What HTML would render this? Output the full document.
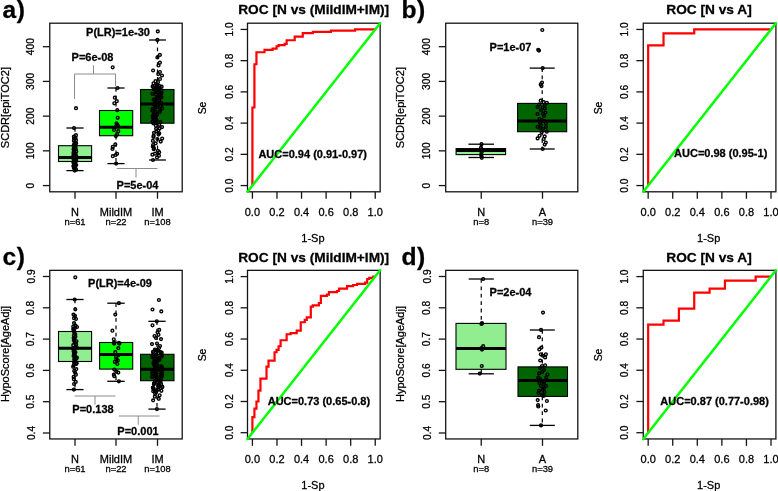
<!DOCTYPE html>
<html><head><meta charset="utf-8"><style>
html,body{margin:0;padding:0;background:#fff;overflow:hidden;}
svg{display:block;will-change:transform;}
</style></head><body>
<svg width="778" height="491" viewBox="0 0 778 491" font-family='"Liberation Sans", sans-serif'>
<rect width="778" height="491" fill="#fff"/>
<line x1="42.87" y1="185.57" x2="49.77" y2="185.57" stroke="#151515" stroke-width="1.3" />
<text x="31" y="185.57" font-size="10.2" font-weight="normal" text-anchor="middle" fill="#000" stroke="#000" stroke-width="0.28" transform="rotate(-90 31 185.57)" dominant-baseline="central">0</text>
<line x1="42.87" y1="150.85" x2="49.77" y2="150.85" stroke="#151515" stroke-width="1.3" />
<text x="31" y="150.85" font-size="10.2" font-weight="normal" text-anchor="middle" fill="#000" stroke="#000" stroke-width="0.28" transform="rotate(-90 31 150.85)" dominant-baseline="central">100</text>
<line x1="42.87" y1="116.13" x2="49.77" y2="116.13" stroke="#151515" stroke-width="1.3" />
<text x="31" y="116.13" font-size="10.2" font-weight="normal" text-anchor="middle" fill="#000" stroke="#000" stroke-width="0.28" transform="rotate(-90 31 116.13)" dominant-baseline="central">200</text>
<line x1="42.87" y1="81.41" x2="49.77" y2="81.41" stroke="#151515" stroke-width="1.3" />
<text x="31" y="81.41" font-size="10.2" font-weight="normal" text-anchor="middle" fill="#000" stroke="#000" stroke-width="0.28" transform="rotate(-90 31 81.41)" dominant-baseline="central">300</text>
<line x1="42.87" y1="46.69" x2="49.77" y2="46.69" stroke="#151515" stroke-width="1.3" />
<text x="31" y="46.69" font-size="10.2" font-weight="normal" text-anchor="middle" fill="#000" stroke="#000" stroke-width="0.28" transform="rotate(-90 31 46.69)" dominant-baseline="central">400</text>
<line x1="75" y1="191.8" x2="75" y2="198.7" stroke="#151515" stroke-width="1.3" />
<line x1="116" y1="191.8" x2="116" y2="198.7" stroke="#151515" stroke-width="1.3" />
<line x1="157.5" y1="191.8" x2="157.5" y2="198.7" stroke="#151515" stroke-width="1.3" />
<text x="75" y="215.5" font-size="11" font-weight="normal" text-anchor="middle" fill="#000" stroke="#000" stroke-width="0.28" >N</text>
<text x="116" y="215.5" font-size="11" font-weight="normal" text-anchor="middle" fill="#000" stroke="#000" stroke-width="0.28" >MildIM</text>
<text x="157.5" y="215.5" font-size="11" font-weight="normal" text-anchor="middle" fill="#000" stroke="#000" stroke-width="0.28" >IM</text>
<text x="75" y="225.2" font-size="9.4" font-weight="normal" text-anchor="middle" fill="#000" stroke="#000" stroke-width="0.28" >n=61</text>
<text x="116" y="225.2" font-size="9.4" font-weight="normal" text-anchor="middle" fill="#000" stroke="#000" stroke-width="0.28" >n=22</text>
<text x="157.5" y="225.2" font-size="9.4" font-weight="normal" text-anchor="middle" fill="#000" stroke="#000" stroke-width="0.28" >n=108</text>
<text x="9" y="107.6" font-size="11" font-weight="normal" text-anchor="middle" fill="#000" stroke="#000" stroke-width="0.28" transform="rotate(-90 9 107.6)" >SCDR[epiTOC2]</text>
<text x="2.6" y="18.2" font-size="24.6" font-weight="bold" text-anchor="start" fill="#000" stroke="#000" stroke-width="0.28" letter-spacing="0.6">a)</text>
<line x1="75" y1="128" x2="75" y2="145.7" stroke="#000" stroke-width="1.2" stroke-dasharray="3.8,3.6"/>
<line x1="75" y1="161.5" x2="75" y2="170.6" stroke="#000" stroke-width="1.2" stroke-dasharray="3.8,3.6"/>
<line x1="66.4" y1="128" x2="83.6" y2="128" stroke="#000" stroke-width="1.3" />
<line x1="66.4" y1="170.6" x2="83.6" y2="170.6" stroke="#000" stroke-width="1.3" />
<rect x="58.5" y="145.7" width="33.1" height="15.8" fill="#90EE90" stroke="#000" stroke-width="1.1"/>
<line x1="58.5" y1="157.5" x2="91.6" y2="157.5" stroke="#000" stroke-width="3" />
<circle cx="74.66" cy="170.62" r="1.4" fill="none" stroke="#000" stroke-width="1.4"/>
<circle cx="76.07" cy="169.70" r="1.4" fill="none" stroke="#000" stroke-width="1.4"/>
<circle cx="74.82" cy="168.95" r="1.4" fill="none" stroke="#000" stroke-width="1.4"/>
<circle cx="73.85" cy="168.04" r="1.4" fill="none" stroke="#000" stroke-width="1.4"/>
<circle cx="75.19" cy="167.42" r="1.4" fill="none" stroke="#000" stroke-width="1.4"/>
<circle cx="73.58" cy="166.18" r="1.4" fill="none" stroke="#000" stroke-width="1.4"/>
<circle cx="73.57" cy="165.94" r="1.4" fill="none" stroke="#000" stroke-width="1.4"/>
<circle cx="75.38" cy="164.82" r="1.4" fill="none" stroke="#000" stroke-width="1.4"/>
<circle cx="76.25" cy="165.05" r="1.4" fill="none" stroke="#000" stroke-width="1.4"/>
<circle cx="75.26" cy="164.26" r="1.4" fill="none" stroke="#000" stroke-width="1.4"/>
<circle cx="73.77" cy="163.27" r="1.4" fill="none" stroke="#000" stroke-width="1.4"/>
<circle cx="74.89" cy="162.80" r="1.4" fill="none" stroke="#000" stroke-width="1.4"/>
<circle cx="73.87" cy="162.44" r="1.4" fill="none" stroke="#000" stroke-width="1.4"/>
<circle cx="73.39" cy="162.11" r="1.4" fill="none" stroke="#000" stroke-width="1.4"/>
<circle cx="74.62" cy="161.90" r="1.4" fill="none" stroke="#000" stroke-width="1.4"/>
<circle cx="74.86" cy="161.41" r="1.4" fill="none" stroke="#000" stroke-width="1.4"/>
<circle cx="74.80" cy="161.16" r="1.4" fill="none" stroke="#000" stroke-width="1.4"/>
<circle cx="74.67" cy="160.58" r="1.4" fill="none" stroke="#000" stroke-width="1.4"/>
<circle cx="76.29" cy="160.88" r="1.4" fill="none" stroke="#000" stroke-width="1.4"/>
<circle cx="75.82" cy="160.38" r="1.4" fill="none" stroke="#000" stroke-width="1.4"/>
<circle cx="74.25" cy="159.72" r="1.4" fill="none" stroke="#000" stroke-width="1.4"/>
<circle cx="74.17" cy="159.33" r="1.4" fill="none" stroke="#000" stroke-width="1.4"/>
<circle cx="75.60" cy="159.32" r="1.4" fill="none" stroke="#000" stroke-width="1.4"/>
<circle cx="75.84" cy="159.04" r="1.4" fill="none" stroke="#000" stroke-width="1.4"/>
<circle cx="76.17" cy="159.13" r="1.4" fill="none" stroke="#000" stroke-width="1.4"/>
<circle cx="73.30" cy="158.35" r="1.4" fill="none" stroke="#000" stroke-width="1.4"/>
<circle cx="76.03" cy="158.29" r="1.4" fill="none" stroke="#000" stroke-width="1.4"/>
<circle cx="76.24" cy="157.96" r="1.4" fill="none" stroke="#000" stroke-width="1.4"/>
<circle cx="73.52" cy="157.87" r="1.4" fill="none" stroke="#000" stroke-width="1.4"/>
<circle cx="75.64" cy="157.32" r="1.4" fill="none" stroke="#000" stroke-width="1.4"/>
<circle cx="73.56" cy="156.79" r="1.4" fill="none" stroke="#000" stroke-width="1.4"/>
<circle cx="76.19" cy="156.55" r="1.4" fill="none" stroke="#000" stroke-width="1.4"/>
<circle cx="73.65" cy="155.57" r="1.4" fill="none" stroke="#000" stroke-width="1.4"/>
<circle cx="73.60" cy="154.84" r="1.4" fill="none" stroke="#000" stroke-width="1.4"/>
<circle cx="75.69" cy="154.36" r="1.4" fill="none" stroke="#000" stroke-width="1.4"/>
<circle cx="74.98" cy="154.00" r="1.4" fill="none" stroke="#000" stroke-width="1.4"/>
<circle cx="73.87" cy="153.65" r="1.4" fill="none" stroke="#000" stroke-width="1.4"/>
<circle cx="73.69" cy="153.00" r="1.4" fill="none" stroke="#000" stroke-width="1.4"/>
<circle cx="73.65" cy="152.25" r="1.4" fill="none" stroke="#000" stroke-width="1.4"/>
<circle cx="73.94" cy="151.55" r="1.4" fill="none" stroke="#000" stroke-width="1.4"/>
<circle cx="76.21" cy="151.40" r="1.4" fill="none" stroke="#000" stroke-width="1.4"/>
<circle cx="74.21" cy="150.89" r="1.4" fill="none" stroke="#000" stroke-width="1.4"/>
<circle cx="73.93" cy="149.92" r="1.4" fill="none" stroke="#000" stroke-width="1.4"/>
<circle cx="75.86" cy="149.55" r="1.4" fill="none" stroke="#000" stroke-width="1.4"/>
<circle cx="73.60" cy="149.20" r="1.4" fill="none" stroke="#000" stroke-width="1.4"/>
<circle cx="73.94" cy="147.83" r="1.4" fill="none" stroke="#000" stroke-width="1.4"/>
<circle cx="75.62" cy="147.10" r="1.4" fill="none" stroke="#000" stroke-width="1.4"/>
<circle cx="74.19" cy="146.12" r="1.4" fill="none" stroke="#000" stroke-width="1.4"/>
<circle cx="73.57" cy="145.74" r="1.4" fill="none" stroke="#000" stroke-width="1.4"/>
<circle cx="74.03" cy="144.97" r="1.4" fill="none" stroke="#000" stroke-width="1.4"/>
<circle cx="74.42" cy="144.07" r="1.4" fill="none" stroke="#000" stroke-width="1.4"/>
<circle cx="76.18" cy="143.32" r="1.4" fill="none" stroke="#000" stroke-width="1.4"/>
<circle cx="75.02" cy="142.60" r="1.4" fill="none" stroke="#000" stroke-width="1.4"/>
<circle cx="73.85" cy="140.83" r="1.4" fill="none" stroke="#000" stroke-width="1.4"/>
<circle cx="76.03" cy="140.16" r="1.4" fill="none" stroke="#000" stroke-width="1.4"/>
<circle cx="74.05" cy="138.45" r="1.4" fill="none" stroke="#000" stroke-width="1.4"/>
<circle cx="75.52" cy="137.85" r="1.4" fill="none" stroke="#000" stroke-width="1.4"/>
<circle cx="73.89" cy="136.66" r="1.4" fill="none" stroke="#000" stroke-width="1.4"/>
<circle cx="75.95" cy="135.18" r="1.4" fill="none" stroke="#000" stroke-width="1.4"/>
<circle cx="74.00" cy="128.00" r="1.4" fill="none" stroke="#000" stroke-width="1.4"/>
<circle cx="76.00" cy="108.20" r="1.4" fill="none" stroke="#000" stroke-width="1.4"/>
<line x1="116" y1="88" x2="116" y2="110.5" stroke="#000" stroke-width="1.2" stroke-dasharray="3.8,3.6"/>
<line x1="116" y1="135.7" x2="116" y2="163.6" stroke="#000" stroke-width="1.2" stroke-dasharray="3.8,3.6"/>
<line x1="107.4" y1="88" x2="124.6" y2="88" stroke="#000" stroke-width="1.3" />
<line x1="107.4" y1="163.6" x2="124.6" y2="163.6" stroke="#000" stroke-width="1.3" />
<rect x="99.5" y="110.5" width="33.2" height="25.2" fill="#00FF00" stroke="#000" stroke-width="1.1"/>
<line x1="99.5" y1="127.3" x2="132.7" y2="127.3" stroke="#000" stroke-width="3" />
<circle cx="112.70" cy="67.30" r="1.4" fill="none" stroke="#000" stroke-width="1.4"/>
<circle cx="117.50" cy="88.00" r="1.4" fill="none" stroke="#000" stroke-width="1.4"/>
<circle cx="114.80" cy="97.70" r="1.4" fill="none" stroke="#000" stroke-width="1.4"/>
<circle cx="116.80" cy="101.20" r="1.4" fill="none" stroke="#000" stroke-width="1.4"/>
<circle cx="114.30" cy="103.30" r="1.4" fill="none" stroke="#000" stroke-width="1.4"/>
<circle cx="117.30" cy="110.20" r="1.4" fill="none" stroke="#000" stroke-width="1.4"/>
<circle cx="117.70" cy="117.80" r="1.4" fill="none" stroke="#000" stroke-width="1.4"/>
<circle cx="116.50" cy="123.30" r="1.4" fill="none" stroke="#000" stroke-width="1.4"/>
<circle cx="117.30" cy="124.50" r="1.4" fill="none" stroke="#000" stroke-width="1.4"/>
<circle cx="115.50" cy="127.00" r="1.4" fill="none" stroke="#000" stroke-width="1.4"/>
<circle cx="114.00" cy="130.00" r="1.4" fill="none" stroke="#000" stroke-width="1.4"/>
<circle cx="118.30" cy="131.20" r="1.4" fill="none" stroke="#000" stroke-width="1.4"/>
<circle cx="117.10" cy="134.20" r="1.4" fill="none" stroke="#000" stroke-width="1.4"/>
<circle cx="115.90" cy="136.10" r="1.4" fill="none" stroke="#000" stroke-width="1.4"/>
<circle cx="115.30" cy="144.40" r="1.4" fill="none" stroke="#000" stroke-width="1.4"/>
<circle cx="112.80" cy="146.80" r="1.4" fill="none" stroke="#000" stroke-width="1.4"/>
<circle cx="112.50" cy="148.90" r="1.4" fill="none" stroke="#000" stroke-width="1.4"/>
<circle cx="117.10" cy="153.80" r="1.4" fill="none" stroke="#000" stroke-width="1.4"/>
<circle cx="115.60" cy="155.00" r="1.4" fill="none" stroke="#000" stroke-width="1.4"/>
<circle cx="112.80" cy="156.20" r="1.4" fill="none" stroke="#000" stroke-width="1.4"/>
<circle cx="116.10" cy="163.60" r="1.4" fill="none" stroke="#000" stroke-width="1.4"/>
<circle cx="118.00" cy="126.00" r="1.4" fill="none" stroke="#000" stroke-width="1.4"/>
<line x1="157.5" y1="40" x2="157.5" y2="89.5" stroke="#000" stroke-width="1.2" stroke-dasharray="3.8,3.6"/>
<line x1="157.5" y1="123.2" x2="157.5" y2="160" stroke="#000" stroke-width="1.2" stroke-dasharray="3.8,3.6"/>
<line x1="149.1" y1="40" x2="165.9" y2="40" stroke="#000" stroke-width="1.3" />
<line x1="149.1" y1="160" x2="165.9" y2="160" stroke="#000" stroke-width="1.3" />
<rect x="140.6" y="89.5" width="33.4" height="33.7" fill="#006400" stroke="#000" stroke-width="1.1"/>
<line x1="140.6" y1="104" x2="174" y2="104" stroke="#000" stroke-width="3" />
<circle cx="157.05" cy="157.47" r="1.4" fill="none" stroke="#000" stroke-width="1.4"/>
<circle cx="158.96" cy="155.76" r="1.4" fill="none" stroke="#000" stroke-width="1.4"/>
<circle cx="152.41" cy="154.64" r="1.4" fill="none" stroke="#000" stroke-width="1.4"/>
<circle cx="155.04" cy="153.68" r="1.4" fill="none" stroke="#000" stroke-width="1.4"/>
<circle cx="159.21" cy="152.21" r="1.4" fill="none" stroke="#000" stroke-width="1.4"/>
<circle cx="157.88" cy="150.82" r="1.4" fill="none" stroke="#000" stroke-width="1.4"/>
<circle cx="153.75" cy="149.20" r="1.4" fill="none" stroke="#000" stroke-width="1.4"/>
<circle cx="153.92" cy="148.12" r="1.4" fill="none" stroke="#000" stroke-width="1.4"/>
<circle cx="152.89" cy="146.60" r="1.4" fill="none" stroke="#000" stroke-width="1.4"/>
<circle cx="153.05" cy="145.05" r="1.4" fill="none" stroke="#000" stroke-width="1.4"/>
<circle cx="155.67" cy="143.37" r="1.4" fill="none" stroke="#000" stroke-width="1.4"/>
<circle cx="160.72" cy="141.61" r="1.4" fill="none" stroke="#000" stroke-width="1.4"/>
<circle cx="152.91" cy="140.88" r="1.4" fill="none" stroke="#000" stroke-width="1.4"/>
<circle cx="157.39" cy="138.98" r="1.4" fill="none" stroke="#000" stroke-width="1.4"/>
<circle cx="162.17" cy="138.54" r="1.4" fill="none" stroke="#000" stroke-width="1.4"/>
<circle cx="153.43" cy="137.00" r="1.4" fill="none" stroke="#000" stroke-width="1.4"/>
<circle cx="153.65" cy="135.79" r="1.4" fill="none" stroke="#000" stroke-width="1.4"/>
<circle cx="158.51" cy="134.55" r="1.4" fill="none" stroke="#000" stroke-width="1.4"/>
<circle cx="159.27" cy="133.34" r="1.4" fill="none" stroke="#000" stroke-width="1.4"/>
<circle cx="154.01" cy="132.83" r="1.4" fill="none" stroke="#000" stroke-width="1.4"/>
<circle cx="156.31" cy="131.39" r="1.4" fill="none" stroke="#000" stroke-width="1.4"/>
<circle cx="158.26" cy="130.32" r="1.4" fill="none" stroke="#000" stroke-width="1.4"/>
<circle cx="156.15" cy="128.84" r="1.4" fill="none" stroke="#000" stroke-width="1.4"/>
<circle cx="159.56" cy="128.47" r="1.4" fill="none" stroke="#000" stroke-width="1.4"/>
<circle cx="162.06" cy="127.11" r="1.4" fill="none" stroke="#000" stroke-width="1.4"/>
<circle cx="155.86" cy="125.74" r="1.4" fill="none" stroke="#000" stroke-width="1.4"/>
<circle cx="159.20" cy="124.87" r="1.4" fill="none" stroke="#000" stroke-width="1.4"/>
<circle cx="153.44" cy="123.40" r="1.4" fill="none" stroke="#000" stroke-width="1.4"/>
<circle cx="155.93" cy="122.87" r="1.4" fill="none" stroke="#000" stroke-width="1.4"/>
<circle cx="160.40" cy="122.16" r="1.4" fill="none" stroke="#000" stroke-width="1.4"/>
<circle cx="152.58" cy="121.71" r="1.4" fill="none" stroke="#000" stroke-width="1.4"/>
<circle cx="156.60" cy="120.76" r="1.4" fill="none" stroke="#000" stroke-width="1.4"/>
<circle cx="154.52" cy="119.98" r="1.4" fill="none" stroke="#000" stroke-width="1.4"/>
<circle cx="156.18" cy="119.55" r="1.4" fill="none" stroke="#000" stroke-width="1.4"/>
<circle cx="153.33" cy="118.66" r="1.4" fill="none" stroke="#000" stroke-width="1.4"/>
<circle cx="154.08" cy="118.08" r="1.4" fill="none" stroke="#000" stroke-width="1.4"/>
<circle cx="152.67" cy="117.03" r="1.4" fill="none" stroke="#000" stroke-width="1.4"/>
<circle cx="155.74" cy="116.61" r="1.4" fill="none" stroke="#000" stroke-width="1.4"/>
<circle cx="152.82" cy="115.77" r="1.4" fill="none" stroke="#000" stroke-width="1.4"/>
<circle cx="154.39" cy="114.92" r="1.4" fill="none" stroke="#000" stroke-width="1.4"/>
<circle cx="157.06" cy="114.75" r="1.4" fill="none" stroke="#000" stroke-width="1.4"/>
<circle cx="157.11" cy="114.04" r="1.4" fill="none" stroke="#000" stroke-width="1.4"/>
<circle cx="153.98" cy="113.31" r="1.4" fill="none" stroke="#000" stroke-width="1.4"/>
<circle cx="155.94" cy="112.02" r="1.4" fill="none" stroke="#000" stroke-width="1.4"/>
<circle cx="159.79" cy="111.89" r="1.4" fill="none" stroke="#000" stroke-width="1.4"/>
<circle cx="152.37" cy="110.67" r="1.4" fill="none" stroke="#000" stroke-width="1.4"/>
<circle cx="160.01" cy="110.02" r="1.4" fill="none" stroke="#000" stroke-width="1.4"/>
<circle cx="154.72" cy="109.05" r="1.4" fill="none" stroke="#000" stroke-width="1.4"/>
<circle cx="152.70" cy="108.83" r="1.4" fill="none" stroke="#000" stroke-width="1.4"/>
<circle cx="162.14" cy="108.43" r="1.4" fill="none" stroke="#000" stroke-width="1.4"/>
<circle cx="157.34" cy="106.94" r="1.4" fill="none" stroke="#000" stroke-width="1.4"/>
<circle cx="155.52" cy="106.84" r="1.4" fill="none" stroke="#000" stroke-width="1.4"/>
<circle cx="160.62" cy="106.02" r="1.4" fill="none" stroke="#000" stroke-width="1.4"/>
<circle cx="154.60" cy="105.22" r="1.4" fill="none" stroke="#000" stroke-width="1.4"/>
<circle cx="157.07" cy="104.60" r="1.4" fill="none" stroke="#000" stroke-width="1.4"/>
<circle cx="154.93" cy="104.19" r="1.4" fill="none" stroke="#000" stroke-width="1.4"/>
<circle cx="161.24" cy="103.00" r="1.4" fill="none" stroke="#000" stroke-width="1.4"/>
<circle cx="155.21" cy="103.00" r="1.4" fill="none" stroke="#000" stroke-width="1.4"/>
<circle cx="155.08" cy="102.50" r="1.4" fill="none" stroke="#000" stroke-width="1.4"/>
<circle cx="157.45" cy="101.74" r="1.4" fill="none" stroke="#000" stroke-width="1.4"/>
<circle cx="159.35" cy="100.79" r="1.4" fill="none" stroke="#000" stroke-width="1.4"/>
<circle cx="155.15" cy="100.26" r="1.4" fill="none" stroke="#000" stroke-width="1.4"/>
<circle cx="159.13" cy="100.05" r="1.4" fill="none" stroke="#000" stroke-width="1.4"/>
<circle cx="153.62" cy="99.64" r="1.4" fill="none" stroke="#000" stroke-width="1.4"/>
<circle cx="156.50" cy="98.56" r="1.4" fill="none" stroke="#000" stroke-width="1.4"/>
<circle cx="156.65" cy="98.59" r="1.4" fill="none" stroke="#000" stroke-width="1.4"/>
<circle cx="157.90" cy="97.74" r="1.4" fill="none" stroke="#000" stroke-width="1.4"/>
<circle cx="161.50" cy="97.45" r="1.4" fill="none" stroke="#000" stroke-width="1.4"/>
<circle cx="159.90" cy="96.45" r="1.4" fill="none" stroke="#000" stroke-width="1.4"/>
<circle cx="158.18" cy="96.27" r="1.4" fill="none" stroke="#000" stroke-width="1.4"/>
<circle cx="160.19" cy="95.45" r="1.4" fill="none" stroke="#000" stroke-width="1.4"/>
<circle cx="155.77" cy="94.72" r="1.4" fill="none" stroke="#000" stroke-width="1.4"/>
<circle cx="159.66" cy="94.31" r="1.4" fill="none" stroke="#000" stroke-width="1.4"/>
<circle cx="152.47" cy="93.87" r="1.4" fill="none" stroke="#000" stroke-width="1.4"/>
<circle cx="161.34" cy="93.37" r="1.4" fill="none" stroke="#000" stroke-width="1.4"/>
<circle cx="161.27" cy="92.90" r="1.4" fill="none" stroke="#000" stroke-width="1.4"/>
<circle cx="157.65" cy="92.24" r="1.4" fill="none" stroke="#000" stroke-width="1.4"/>
<circle cx="156.09" cy="91.13" r="1.4" fill="none" stroke="#000" stroke-width="1.4"/>
<circle cx="155.83" cy="90.73" r="1.4" fill="none" stroke="#000" stroke-width="1.4"/>
<circle cx="161.64" cy="90.47" r="1.4" fill="none" stroke="#000" stroke-width="1.4"/>
<circle cx="157.72" cy="89.86" r="1.4" fill="none" stroke="#000" stroke-width="1.4"/>
<circle cx="153.55" cy="89.33" r="1.4" fill="none" stroke="#000" stroke-width="1.4"/>
<circle cx="159.31" cy="88.86" r="1.4" fill="none" stroke="#000" stroke-width="1.4"/>
<circle cx="154.76" cy="88.51" r="1.4" fill="none" stroke="#000" stroke-width="1.4"/>
<circle cx="155.54" cy="88.37" r="1.4" fill="none" stroke="#000" stroke-width="1.4"/>
<circle cx="153.72" cy="87.53" r="1.4" fill="none" stroke="#000" stroke-width="1.4"/>
<circle cx="155.42" cy="87.65" r="1.4" fill="none" stroke="#000" stroke-width="1.4"/>
<circle cx="159.90" cy="87.26" r="1.4" fill="none" stroke="#000" stroke-width="1.4"/>
<circle cx="161.65" cy="86.66" r="1.4" fill="none" stroke="#000" stroke-width="1.4"/>
<circle cx="152.60" cy="86.40" r="1.4" fill="none" stroke="#000" stroke-width="1.4"/>
<circle cx="156.74" cy="85.79" r="1.4" fill="none" stroke="#000" stroke-width="1.4"/>
<circle cx="158.97" cy="85.55" r="1.4" fill="none" stroke="#000" stroke-width="1.4"/>
<circle cx="157.40" cy="39.90" r="1.4" fill="none" stroke="#000" stroke-width="1.4"/>
<circle cx="157.80" cy="31.40" r="1.4" fill="none" stroke="#000" stroke-width="1.4"/>
<circle cx="153.00" cy="160.00" r="1.4" fill="none" stroke="#000" stroke-width="1.4"/>
<circle cx="159.90" cy="54.90" r="1.4" fill="none" stroke="#000" stroke-width="1.4"/>
<circle cx="157.40" cy="57.40" r="1.4" fill="none" stroke="#000" stroke-width="1.4"/>
<circle cx="159.90" cy="62.70" r="1.4" fill="none" stroke="#000" stroke-width="1.4"/>
<circle cx="158.50" cy="65.50" r="1.4" fill="none" stroke="#000" stroke-width="1.4"/>
<circle cx="153.10" cy="70.50" r="1.4" fill="none" stroke="#000" stroke-width="1.4"/>
<circle cx="159.90" cy="72.00" r="1.4" fill="none" stroke="#000" stroke-width="1.4"/>
<circle cx="158.20" cy="74.10" r="1.4" fill="none" stroke="#000" stroke-width="1.4"/>
<circle cx="162.00" cy="75.50" r="1.4" fill="none" stroke="#000" stroke-width="1.4"/>
<circle cx="160.00" cy="79.00" r="1.4" fill="none" stroke="#000" stroke-width="1.4"/>
<circle cx="155.50" cy="81.20" r="1.4" fill="none" stroke="#000" stroke-width="1.4"/>
<circle cx="158.00" cy="82.00" r="1.4" fill="none" stroke="#000" stroke-width="1.4"/>
<circle cx="153.50" cy="83.30" r="1.4" fill="none" stroke="#000" stroke-width="1.4"/>
<circle cx="157.00" cy="84.50" r="1.4" fill="none" stroke="#000" stroke-width="1.4"/>
<rect x="49.77" y="23.2" width="132.43" height="168.6" fill="none" stroke="#151515" stroke-width="1.3"/>
<line x1="74.5" y1="74" x2="115.5" y2="74" stroke="#8c8c8c" stroke-width="1" />
<line x1="74.5" y1="74" x2="74.5" y2="99" stroke="#8c8c8c" stroke-width="1" />
<line x1="115.5" y1="74" x2="115.5" y2="86" stroke="#8c8c8c" stroke-width="1" />
<line x1="93.5" y1="65.3" x2="93.5" y2="74" stroke="#8c8c8c" stroke-width="1" />
<line x1="116.7" y1="168.5" x2="157.5" y2="168.5" stroke="#8c8c8c" stroke-width="1" />
<line x1="136" y1="168.5" x2="136" y2="177.5" stroke="#8c8c8c" stroke-width="1" />
<text x="118" y="36.2" font-size="11.0" font-weight="bold" text-anchor="middle" fill="#000" stroke="#000" stroke-width="0.28" >P(LR)=1e-30</text>
<text x="92.5" y="60.8" font-size="11.0" font-weight="bold" text-anchor="middle" fill="#000" stroke="#000" stroke-width="0.28" >P=6e-08</text>
<text x="137.5" y="188.5" font-size="11.0" font-weight="bold" text-anchor="middle" fill="#000" stroke="#000" stroke-width="0.28" >P=5e-04</text>
<rect x="247.5" y="23.2" width="132.65" height="168.6" fill="none" stroke="#151515" stroke-width="1.3"/>
<line x1="240.6" y1="185.56" x2="247.5" y2="185.56" stroke="#151515" stroke-width="1.3" />
<text x="229.2" y="185.56" font-size="10.2" font-weight="normal" text-anchor="middle" fill="#000" stroke="#000" stroke-width="0.28" transform="rotate(-90 229.2 185.56)" dominant-baseline="central">0.0</text>
<line x1="240.6" y1="154.34" x2="247.5" y2="154.34" stroke="#151515" stroke-width="1.3" />
<text x="229.2" y="154.34" font-size="10.2" font-weight="normal" text-anchor="middle" fill="#000" stroke="#000" stroke-width="0.28" transform="rotate(-90 229.2 154.34)" dominant-baseline="central">0.2</text>
<line x1="240.6" y1="123.11" x2="247.5" y2="123.11" stroke="#151515" stroke-width="1.3" />
<text x="229.2" y="123.11" font-size="10.2" font-weight="normal" text-anchor="middle" fill="#000" stroke="#000" stroke-width="0.28" transform="rotate(-90 229.2 123.11)" dominant-baseline="central">0.4</text>
<line x1="240.6" y1="91.89" x2="247.5" y2="91.89" stroke="#151515" stroke-width="1.3" />
<text x="229.2" y="91.89" font-size="10.2" font-weight="normal" text-anchor="middle" fill="#000" stroke="#000" stroke-width="0.28" transform="rotate(-90 229.2 91.89)" dominant-baseline="central">0.6</text>
<line x1="240.6" y1="60.66" x2="247.5" y2="60.66" stroke="#151515" stroke-width="1.3" />
<text x="229.2" y="60.66" font-size="10.2" font-weight="normal" text-anchor="middle" fill="#000" stroke="#000" stroke-width="0.28" transform="rotate(-90 229.2 60.66)" dominant-baseline="central">0.8</text>
<line x1="240.6" y1="29.44" x2="247.5" y2="29.44" stroke="#151515" stroke-width="1.3" />
<text x="229.2" y="29.44" font-size="10.2" font-weight="normal" text-anchor="middle" fill="#000" stroke="#000" stroke-width="0.28" transform="rotate(-90 229.2 29.44)" dominant-baseline="central">1.0</text>
<line x1="252.41" y1="191.8" x2="252.41" y2="198.7" stroke="#151515" stroke-width="1.3" />
<line x1="276.98" y1="191.8" x2="276.98" y2="198.7" stroke="#151515" stroke-width="1.3" />
<line x1="301.54" y1="191.8" x2="301.54" y2="198.7" stroke="#151515" stroke-width="1.3" />
<line x1="326.11" y1="191.8" x2="326.11" y2="198.7" stroke="#151515" stroke-width="1.3" />
<line x1="350.67" y1="191.8" x2="350.67" y2="198.7" stroke="#151515" stroke-width="1.3" />
<line x1="375.24" y1="191.8" x2="375.24" y2="198.7" stroke="#151515" stroke-width="1.3" />
<text x="252.41" y="216.3" font-size="11.0" font-weight="normal" text-anchor="middle" fill="#000" stroke="#000" stroke-width="0.28" >0.0</text>
<text x="276.98" y="216.3" font-size="11.0" font-weight="normal" text-anchor="middle" fill="#000" stroke="#000" stroke-width="0.28" >0.2</text>
<text x="301.54" y="216.3" font-size="11.0" font-weight="normal" text-anchor="middle" fill="#000" stroke="#000" stroke-width="0.28" >0.4</text>
<text x="326.11" y="216.3" font-size="11.0" font-weight="normal" text-anchor="middle" fill="#000" stroke="#000" stroke-width="0.28" >0.6</text>
<text x="350.67" y="216.3" font-size="11.0" font-weight="normal" text-anchor="middle" fill="#000" stroke="#000" stroke-width="0.28" >0.8</text>
<text x="375.24" y="216.3" font-size="11.0" font-weight="normal" text-anchor="middle" fill="#000" stroke="#000" stroke-width="0.28" >1.0</text>
<text x="312.93" y="241.8" font-size="11.0" font-weight="normal" text-anchor="middle" fill="#000" stroke="#000" stroke-width="0.28" >1-Sp</text>
<text x="205.7" y="108" font-size="10.4" font-weight="normal" text-anchor="middle" fill="#000" stroke="#000" stroke-width="0.28" transform="rotate(-90 205.7 108)" >Se</text>
<text x="313.7" y="14" font-size="13.7" font-weight="bold" text-anchor="middle" fill="#000" stroke="#000" stroke-width="0.28" >ROC [N vs (MildIM+IM)]</text>
<polyline points="252.41,185.56 252.41,107.50 254.42,107.50 254.42,64.27 256.44,64.27 256.44,52.26 264.49,52.26 264.49,49.86 272.55,49.86 272.55,48.65 276.57,48.65 276.57,46.25 278.59,46.25 278.59,45.05 284.63,45.05 284.63,43.85 286.64,43.85 286.64,40.25 294.70,40.25 294.70,36.65 302.75,36.65 302.75,33.04 312.82,33.04 312.82,31.84 330.94,31.84 330.94,30.64 355.10,30.64 355.10,29.44 375.24,29.44" fill="none" stroke="#ff0000" stroke-width="2.2" stroke-linejoin="miter"/>
<line x1="247.5" y1="191.8" x2="380.15" y2="23.2" stroke="#00ff00" stroke-width="2.5" stroke-linecap="round"/>
<text x="312.7" y="157.5" font-size="11.0" font-weight="bold" text-anchor="middle" fill="#000" stroke="#000" stroke-width="0.28" >AUC=0.94 (0.91-0.97)</text>
<line x1="438.8" y1="185.57" x2="445.7" y2="185.57" stroke="#151515" stroke-width="1.3" />
<text x="427" y="185.57" font-size="10.2" font-weight="normal" text-anchor="middle" fill="#000" stroke="#000" stroke-width="0.28" transform="rotate(-90 427 185.57)" dominant-baseline="central">0</text>
<line x1="438.8" y1="150.85" x2="445.7" y2="150.85" stroke="#151515" stroke-width="1.3" />
<text x="427" y="150.85" font-size="10.2" font-weight="normal" text-anchor="middle" fill="#000" stroke="#000" stroke-width="0.28" transform="rotate(-90 427 150.85)" dominant-baseline="central">100</text>
<line x1="438.8" y1="116.13" x2="445.7" y2="116.13" stroke="#151515" stroke-width="1.3" />
<text x="427" y="116.13" font-size="10.2" font-weight="normal" text-anchor="middle" fill="#000" stroke="#000" stroke-width="0.28" transform="rotate(-90 427 116.13)" dominant-baseline="central">200</text>
<line x1="438.8" y1="81.41" x2="445.7" y2="81.41" stroke="#151515" stroke-width="1.3" />
<text x="427" y="81.41" font-size="10.2" font-weight="normal" text-anchor="middle" fill="#000" stroke="#000" stroke-width="0.28" transform="rotate(-90 427 81.41)" dominant-baseline="central">300</text>
<line x1="438.8" y1="46.69" x2="445.7" y2="46.69" stroke="#151515" stroke-width="1.3" />
<text x="427" y="46.69" font-size="10.2" font-weight="normal" text-anchor="middle" fill="#000" stroke="#000" stroke-width="0.28" transform="rotate(-90 427 46.69)" dominant-baseline="central">400</text>
<line x1="481.25" y1="191.8" x2="481.25" y2="198.7" stroke="#151515" stroke-width="1.3" />
<line x1="542.5" y1="191.8" x2="542.5" y2="198.7" stroke="#151515" stroke-width="1.3" />
<text x="481.25" y="215.5" font-size="11" font-weight="normal" text-anchor="middle" fill="#000" stroke="#000" stroke-width="0.28" >N</text>
<text x="542.5" y="215.5" font-size="11" font-weight="normal" text-anchor="middle" fill="#000" stroke="#000" stroke-width="0.28" >A</text>
<text x="481.25" y="225.2" font-size="9.4" font-weight="normal" text-anchor="middle" fill="#000" stroke="#000" stroke-width="0.28" >n=8</text>
<text x="542.5" y="225.2" font-size="9.4" font-weight="normal" text-anchor="middle" fill="#000" stroke="#000" stroke-width="0.28" >n=39</text>
<text x="404.2" y="107.6" font-size="11" font-weight="normal" text-anchor="middle" fill="#000" stroke="#000" stroke-width="0.28" transform="rotate(-90 404.2 107.6)" >SCDR[epiTOC2]</text>
<text x="401.5" y="18.2" font-size="24.6" font-weight="bold" text-anchor="start" fill="#000" stroke="#000" stroke-width="0.28" letter-spacing="0.6">b)</text>
<line x1="481.25" y1="144.2" x2="481.25" y2="148.6" stroke="#000" stroke-width="1.2" stroke-dasharray="3.8,3.6"/>
<line x1="481.25" y1="154.6" x2="481.25" y2="157.5" stroke="#000" stroke-width="1.2" stroke-dasharray="3.8,3.6"/>
<line x1="468.45" y1="144.2" x2="494.05" y2="144.2" stroke="#000" stroke-width="1.3" />
<line x1="468.45" y1="157.5" x2="494.05" y2="157.5" stroke="#000" stroke-width="1.3" />
<rect x="456.1" y="148.6" width="49.5" height="6" fill="#90EE90" stroke="#000" stroke-width="1.1"/>
<line x1="456.1" y1="150.6" x2="505.6" y2="150.6" stroke="#000" stroke-width="3" />
<circle cx="481.50" cy="144.20" r="1.4" fill="none" stroke="#000" stroke-width="1.4"/>
<circle cx="481.00" cy="147.70" r="1.4" fill="none" stroke="#000" stroke-width="1.4"/>
<circle cx="481.50" cy="149.50" r="1.4" fill="none" stroke="#000" stroke-width="1.4"/>
<circle cx="480.80" cy="150.80" r="1.4" fill="none" stroke="#000" stroke-width="1.4"/>
<circle cx="481.80" cy="152.00" r="1.4" fill="none" stroke="#000" stroke-width="1.4"/>
<circle cx="481.20" cy="154.50" r="1.4" fill="none" stroke="#000" stroke-width="1.4"/>
<circle cx="481.50" cy="156.20" r="1.4" fill="none" stroke="#000" stroke-width="1.4"/>
<circle cx="481.80" cy="157.80" r="1.4" fill="none" stroke="#000" stroke-width="1.4"/>
<line x1="542.2" y1="68.1" x2="542.2" y2="103.4" stroke="#000" stroke-width="1.2" stroke-dasharray="3.8,3.6"/>
<line x1="542.2" y1="131.7" x2="542.2" y2="149" stroke="#000" stroke-width="1.2" stroke-dasharray="3.8,3.6"/>
<line x1="529.7" y1="68.1" x2="554.7" y2="68.1" stroke="#000" stroke-width="1.3" />
<line x1="529.7" y1="149" x2="554.7" y2="149" stroke="#000" stroke-width="1.3" />
<rect x="517.6" y="103.4" width="49.1" height="28.3" fill="#006400" stroke="#000" stroke-width="1.1"/>
<line x1="517.6" y1="121.1" x2="566.7" y2="121.1" stroke="#000" stroke-width="3" />
<circle cx="542.30" cy="30.00" r="1.4" fill="none" stroke="#000" stroke-width="1.4"/>
<circle cx="538.20" cy="49.80" r="1.4" fill="none" stroke="#000" stroke-width="1.4"/>
<circle cx="539.00" cy="50.60" r="1.4" fill="none" stroke="#000" stroke-width="1.4"/>
<circle cx="542.70" cy="68.10" r="1.4" fill="none" stroke="#000" stroke-width="1.4"/>
<circle cx="540.70" cy="84.40" r="1.4" fill="none" stroke="#000" stroke-width="1.4"/>
<circle cx="541.50" cy="86.10" r="1.4" fill="none" stroke="#000" stroke-width="1.4"/>
<circle cx="542.00" cy="82.50" r="1.4" fill="none" stroke="#000" stroke-width="1.4"/>
<circle cx="540.70" cy="100.70" r="1.4" fill="none" stroke="#000" stroke-width="1.4"/>
<circle cx="543.70" cy="102.20" r="1.4" fill="none" stroke="#000" stroke-width="1.4"/>
<circle cx="546.80" cy="102.80" r="1.4" fill="none" stroke="#000" stroke-width="1.4"/>
<circle cx="537.60" cy="106.90" r="1.4" fill="none" stroke="#000" stroke-width="1.4"/>
<circle cx="542.70" cy="107.30" r="1.4" fill="none" stroke="#000" stroke-width="1.4"/>
<circle cx="544.70" cy="108.50" r="1.4" fill="none" stroke="#000" stroke-width="1.4"/>
<circle cx="537.60" cy="114.00" r="1.4" fill="none" stroke="#000" stroke-width="1.4"/>
<circle cx="545.40" cy="112.60" r="1.4" fill="none" stroke="#000" stroke-width="1.4"/>
<circle cx="539.60" cy="119.10" r="1.4" fill="none" stroke="#000" stroke-width="1.4"/>
<circle cx="542.00" cy="120.00" r="1.4" fill="none" stroke="#000" stroke-width="1.4"/>
<circle cx="544.50" cy="121.00" r="1.4" fill="none" stroke="#000" stroke-width="1.4"/>
<circle cx="545.80" cy="123.20" r="1.4" fill="none" stroke="#000" stroke-width="1.4"/>
<circle cx="541.00" cy="125.00" r="1.4" fill="none" stroke="#000" stroke-width="1.4"/>
<circle cx="537.60" cy="126.80" r="1.4" fill="none" stroke="#000" stroke-width="1.4"/>
<circle cx="540.00" cy="128.00" r="1.4" fill="none" stroke="#000" stroke-width="1.4"/>
<circle cx="543.00" cy="129.00" r="1.4" fill="none" stroke="#000" stroke-width="1.4"/>
<circle cx="546.00" cy="127.00" r="1.4" fill="none" stroke="#000" stroke-width="1.4"/>
<circle cx="541.70" cy="132.30" r="1.4" fill="none" stroke="#000" stroke-width="1.4"/>
<circle cx="546.80" cy="131.70" r="1.4" fill="none" stroke="#000" stroke-width="1.4"/>
<circle cx="539.60" cy="135.80" r="1.4" fill="none" stroke="#000" stroke-width="1.4"/>
<circle cx="544.70" cy="136.40" r="1.4" fill="none" stroke="#000" stroke-width="1.4"/>
<circle cx="537.60" cy="138.40" r="1.4" fill="none" stroke="#000" stroke-width="1.4"/>
<circle cx="543.70" cy="139.00" r="1.4" fill="none" stroke="#000" stroke-width="1.4"/>
<circle cx="545.80" cy="142.50" r="1.4" fill="none" stroke="#000" stroke-width="1.4"/>
<circle cx="544.70" cy="144.60" r="1.4" fill="none" stroke="#000" stroke-width="1.4"/>
<circle cx="542.70" cy="149.00" r="1.4" fill="none" stroke="#000" stroke-width="1.4"/>
<circle cx="541.00" cy="110.00" r="1.4" fill="none" stroke="#000" stroke-width="1.4"/>
<circle cx="544.00" cy="116.00" r="1.4" fill="none" stroke="#000" stroke-width="1.4"/>
<circle cx="539.00" cy="104.50" r="1.4" fill="none" stroke="#000" stroke-width="1.4"/>
<circle cx="543.00" cy="113.50" r="1.4" fill="none" stroke="#000" stroke-width="1.4"/>
<circle cx="540.00" cy="123.00" r="1.4" fill="none" stroke="#000" stroke-width="1.4"/>
<circle cx="545.00" cy="105.00" r="1.4" fill="none" stroke="#000" stroke-width="1.4"/>
<rect x="445.7" y="23.2" width="132.1" height="168.6" fill="none" stroke="#151515" stroke-width="1.3"/>
<text x="510.5" y="51" font-size="11.0" font-weight="bold" text-anchor="middle" fill="#000" stroke="#000" stroke-width="0.28" >P=1e-07</text>
<rect x="643.26" y="23.2" width="132.64" height="168.6" fill="none" stroke="#151515" stroke-width="1.3"/>
<line x1="636.36" y1="185.56" x2="643.26" y2="185.56" stroke="#151515" stroke-width="1.3" />
<text x="624.96" y="185.56" font-size="10.2" font-weight="normal" text-anchor="middle" fill="#000" stroke="#000" stroke-width="0.28" transform="rotate(-90 624.96 185.56)" dominant-baseline="central">0.0</text>
<line x1="636.36" y1="154.34" x2="643.26" y2="154.34" stroke="#151515" stroke-width="1.3" />
<text x="624.96" y="154.34" font-size="10.2" font-weight="normal" text-anchor="middle" fill="#000" stroke="#000" stroke-width="0.28" transform="rotate(-90 624.96 154.34)" dominant-baseline="central">0.2</text>
<line x1="636.36" y1="123.11" x2="643.26" y2="123.11" stroke="#151515" stroke-width="1.3" />
<text x="624.96" y="123.11" font-size="10.2" font-weight="normal" text-anchor="middle" fill="#000" stroke="#000" stroke-width="0.28" transform="rotate(-90 624.96 123.11)" dominant-baseline="central">0.4</text>
<line x1="636.36" y1="91.89" x2="643.26" y2="91.89" stroke="#151515" stroke-width="1.3" />
<text x="624.96" y="91.89" font-size="10.2" font-weight="normal" text-anchor="middle" fill="#000" stroke="#000" stroke-width="0.28" transform="rotate(-90 624.96 91.89)" dominant-baseline="central">0.6</text>
<line x1="636.36" y1="60.66" x2="643.26" y2="60.66" stroke="#151515" stroke-width="1.3" />
<text x="624.96" y="60.66" font-size="10.2" font-weight="normal" text-anchor="middle" fill="#000" stroke="#000" stroke-width="0.28" transform="rotate(-90 624.96 60.66)" dominant-baseline="central">0.8</text>
<line x1="636.36" y1="29.44" x2="643.26" y2="29.44" stroke="#151515" stroke-width="1.3" />
<text x="624.96" y="29.44" font-size="10.2" font-weight="normal" text-anchor="middle" fill="#000" stroke="#000" stroke-width="0.28" transform="rotate(-90 624.96 29.44)" dominant-baseline="central">1.0</text>
<line x1="648.17" y1="191.8" x2="648.17" y2="198.7" stroke="#151515" stroke-width="1.3" />
<line x1="672.74" y1="191.8" x2="672.74" y2="198.7" stroke="#151515" stroke-width="1.3" />
<line x1="697.3" y1="191.8" x2="697.3" y2="198.7" stroke="#151515" stroke-width="1.3" />
<line x1="721.87" y1="191.8" x2="721.87" y2="198.7" stroke="#151515" stroke-width="1.3" />
<line x1="746.43" y1="191.8" x2="746.43" y2="198.7" stroke="#151515" stroke-width="1.3" />
<line x1="771" y1="191.8" x2="771" y2="198.7" stroke="#151515" stroke-width="1.3" />
<text x="648.17" y="216.3" font-size="11.0" font-weight="normal" text-anchor="middle" fill="#000" stroke="#000" stroke-width="0.28" >0.0</text>
<text x="672.74" y="216.3" font-size="11.0" font-weight="normal" text-anchor="middle" fill="#000" stroke="#000" stroke-width="0.28" >0.2</text>
<text x="697.3" y="216.3" font-size="11.0" font-weight="normal" text-anchor="middle" fill="#000" stroke="#000" stroke-width="0.28" >0.4</text>
<text x="721.87" y="216.3" font-size="11.0" font-weight="normal" text-anchor="middle" fill="#000" stroke="#000" stroke-width="0.28" >0.6</text>
<text x="746.43" y="216.3" font-size="11.0" font-weight="normal" text-anchor="middle" fill="#000" stroke="#000" stroke-width="0.28" >0.8</text>
<text x="771" y="216.3" font-size="11.0" font-weight="normal" text-anchor="middle" fill="#000" stroke="#000" stroke-width="0.28" >1.0</text>
<text x="708.69" y="241.8" font-size="11.0" font-weight="normal" text-anchor="middle" fill="#000" stroke="#000" stroke-width="0.28" >1-Sp</text>
<text x="601.5" y="108" font-size="10.4" font-weight="normal" text-anchor="middle" fill="#000" stroke="#000" stroke-width="0.28" transform="rotate(-90 601.5 108)" >Se</text>
<text x="709" y="14" font-size="13.7" font-weight="bold" text-anchor="middle" fill="#000" stroke="#000" stroke-width="0.28" >ROC [N vs A]</text>
<polyline points="648.17,185.56 648.17,45.45 663.52,45.45 663.52,33.44 694.23,33.44 694.23,29.44 771.00,29.44" fill="none" stroke="#ff0000" stroke-width="2.2" stroke-linejoin="miter"/>
<line x1="643.26" y1="191.8" x2="775.9" y2="23.2" stroke="#00ff00" stroke-width="2.5" stroke-linecap="round"/>
<text x="720.7" y="157.4" font-size="11.0" font-weight="bold" text-anchor="middle" fill="#000" stroke="#000" stroke-width="0.28" >AUC=0.98 (0.95-1)</text>
<line x1="42.87" y1="433" x2="49.77" y2="433" stroke="#151515" stroke-width="1.3" />
<text x="31" y="433" font-size="10.2" font-weight="normal" text-anchor="middle" fill="#000" stroke="#000" stroke-width="0.28" transform="rotate(-90 31 433)" dominant-baseline="central">0.4</text>
<line x1="42.87" y1="401.7" x2="49.77" y2="401.7" stroke="#151515" stroke-width="1.3" />
<text x="31" y="401.7" font-size="10.2" font-weight="normal" text-anchor="middle" fill="#000" stroke="#000" stroke-width="0.28" transform="rotate(-90 31 401.7)" dominant-baseline="central">0.5</text>
<line x1="42.87" y1="370.4" x2="49.77" y2="370.4" stroke="#151515" stroke-width="1.3" />
<text x="31" y="370.4" font-size="10.2" font-weight="normal" text-anchor="middle" fill="#000" stroke="#000" stroke-width="0.28" transform="rotate(-90 31 370.4)" dominant-baseline="central">0.6</text>
<line x1="42.87" y1="339.1" x2="49.77" y2="339.1" stroke="#151515" stroke-width="1.3" />
<text x="31" y="339.1" font-size="10.2" font-weight="normal" text-anchor="middle" fill="#000" stroke="#000" stroke-width="0.28" transform="rotate(-90 31 339.1)" dominant-baseline="central">0.7</text>
<line x1="42.87" y1="307.8" x2="49.77" y2="307.8" stroke="#151515" stroke-width="1.3" />
<text x="31" y="307.8" font-size="10.2" font-weight="normal" text-anchor="middle" fill="#000" stroke="#000" stroke-width="0.28" transform="rotate(-90 31 307.8)" dominant-baseline="central">0.8</text>
<line x1="42.87" y1="276.5" x2="49.77" y2="276.5" stroke="#151515" stroke-width="1.3" />
<text x="31" y="276.5" font-size="10.2" font-weight="normal" text-anchor="middle" fill="#000" stroke="#000" stroke-width="0.28" transform="rotate(-90 31 276.5)" dominant-baseline="central">0.9</text>
<line x1="75" y1="438.95" x2="75" y2="445.85" stroke="#151515" stroke-width="1.3" />
<line x1="116" y1="438.95" x2="116" y2="445.85" stroke="#151515" stroke-width="1.3" />
<line x1="157.5" y1="438.95" x2="157.5" y2="445.85" stroke="#151515" stroke-width="1.3" />
<text x="75" y="462.5" font-size="11" font-weight="normal" text-anchor="middle" fill="#000" stroke="#000" stroke-width="0.28" >N</text>
<text x="116" y="462.5" font-size="11" font-weight="normal" text-anchor="middle" fill="#000" stroke="#000" stroke-width="0.28" >MildIM</text>
<text x="157.5" y="462.5" font-size="11" font-weight="normal" text-anchor="middle" fill="#000" stroke="#000" stroke-width="0.28" >IM</text>
<text x="75" y="472.2" font-size="9.4" font-weight="normal" text-anchor="middle" fill="#000" stroke="#000" stroke-width="0.28" >n=61</text>
<text x="116" y="472.2" font-size="9.4" font-weight="normal" text-anchor="middle" fill="#000" stroke="#000" stroke-width="0.28" >n=22</text>
<text x="157.5" y="472.2" font-size="9.4" font-weight="normal" text-anchor="middle" fill="#000" stroke="#000" stroke-width="0.28" >n=108</text>
<text x="9" y="354" font-size="11" font-weight="normal" text-anchor="middle" fill="#000" stroke="#000" stroke-width="0.28" transform="rotate(-90 9 354)" >HypoScore[AgeAdj]</text>
<text x="2.6" y="264.9" font-size="24.6" font-weight="bold" text-anchor="start" fill="#000" stroke="#000" stroke-width="0.28" letter-spacing="0.6">c)</text>
<line x1="75" y1="299.5" x2="75" y2="331.5" stroke="#000" stroke-width="1.2" stroke-dasharray="3.8,3.6"/>
<line x1="75" y1="361.5" x2="75" y2="389.6" stroke="#000" stroke-width="1.2" stroke-dasharray="3.8,3.6"/>
<line x1="66.4" y1="299.5" x2="83.6" y2="299.5" stroke="#000" stroke-width="1.3" />
<line x1="66.4" y1="389.6" x2="83.6" y2="389.6" stroke="#000" stroke-width="1.3" />
<rect x="58.5" y="331.5" width="33.1" height="30" fill="#90EE90" stroke="#000" stroke-width="1.1"/>
<line x1="58.5" y1="348.3" x2="91.6" y2="348.3" stroke="#000" stroke-width="3" />
<circle cx="74.08" cy="384.02" r="1.4" fill="none" stroke="#000" stroke-width="1.4"/>
<circle cx="75.70" cy="381.90" r="1.4" fill="none" stroke="#000" stroke-width="1.4"/>
<circle cx="73.81" cy="379.16" r="1.4" fill="none" stroke="#000" stroke-width="1.4"/>
<circle cx="73.66" cy="376.91" r="1.4" fill="none" stroke="#000" stroke-width="1.4"/>
<circle cx="75.89" cy="374.70" r="1.4" fill="none" stroke="#000" stroke-width="1.4"/>
<circle cx="75.12" cy="372.77" r="1.4" fill="none" stroke="#000" stroke-width="1.4"/>
<circle cx="74.22" cy="370.95" r="1.4" fill="none" stroke="#000" stroke-width="1.4"/>
<circle cx="76.28" cy="369.09" r="1.4" fill="none" stroke="#000" stroke-width="1.4"/>
<circle cx="73.15" cy="366.82" r="1.4" fill="none" stroke="#000" stroke-width="1.4"/>
<circle cx="73.66" cy="365.30" r="1.4" fill="none" stroke="#000" stroke-width="1.4"/>
<circle cx="76.18" cy="363.99" r="1.4" fill="none" stroke="#000" stroke-width="1.4"/>
<circle cx="76.24" cy="363.45" r="1.4" fill="none" stroke="#000" stroke-width="1.4"/>
<circle cx="76.71" cy="362.99" r="1.4" fill="none" stroke="#000" stroke-width="1.4"/>
<circle cx="74.08" cy="362.53" r="1.4" fill="none" stroke="#000" stroke-width="1.4"/>
<circle cx="74.95" cy="361.95" r="1.4" fill="none" stroke="#000" stroke-width="1.4"/>
<circle cx="75.24" cy="361.00" r="1.4" fill="none" stroke="#000" stroke-width="1.4"/>
<circle cx="74.48" cy="360.12" r="1.4" fill="none" stroke="#000" stroke-width="1.4"/>
<circle cx="74.29" cy="358.99" r="1.4" fill="none" stroke="#000" stroke-width="1.4"/>
<circle cx="76.21" cy="358.66" r="1.4" fill="none" stroke="#000" stroke-width="1.4"/>
<circle cx="76.85" cy="357.69" r="1.4" fill="none" stroke="#000" stroke-width="1.4"/>
<circle cx="75.21" cy="356.86" r="1.4" fill="none" stroke="#000" stroke-width="1.4"/>
<circle cx="73.61" cy="355.92" r="1.4" fill="none" stroke="#000" stroke-width="1.4"/>
<circle cx="74.78" cy="354.64" r="1.4" fill="none" stroke="#000" stroke-width="1.4"/>
<circle cx="73.87" cy="354.04" r="1.4" fill="none" stroke="#000" stroke-width="1.4"/>
<circle cx="74.06" cy="353.11" r="1.4" fill="none" stroke="#000" stroke-width="1.4"/>
<circle cx="75.40" cy="352.18" r="1.4" fill="none" stroke="#000" stroke-width="1.4"/>
<circle cx="73.60" cy="351.37" r="1.4" fill="none" stroke="#000" stroke-width="1.4"/>
<circle cx="73.99" cy="350.29" r="1.4" fill="none" stroke="#000" stroke-width="1.4"/>
<circle cx="73.84" cy="349.51" r="1.4" fill="none" stroke="#000" stroke-width="1.4"/>
<circle cx="73.38" cy="348.86" r="1.4" fill="none" stroke="#000" stroke-width="1.4"/>
<circle cx="76.72" cy="347.65" r="1.4" fill="none" stroke="#000" stroke-width="1.4"/>
<circle cx="75.83" cy="346.97" r="1.4" fill="none" stroke="#000" stroke-width="1.4"/>
<circle cx="73.26" cy="345.21" r="1.4" fill="none" stroke="#000" stroke-width="1.4"/>
<circle cx="76.16" cy="344.65" r="1.4" fill="none" stroke="#000" stroke-width="1.4"/>
<circle cx="75.53" cy="342.99" r="1.4" fill="none" stroke="#000" stroke-width="1.4"/>
<circle cx="74.67" cy="342.43" r="1.4" fill="none" stroke="#000" stroke-width="1.4"/>
<circle cx="76.47" cy="341.26" r="1.4" fill="none" stroke="#000" stroke-width="1.4"/>
<circle cx="73.87" cy="340.18" r="1.4" fill="none" stroke="#000" stroke-width="1.4"/>
<circle cx="74.52" cy="338.95" r="1.4" fill="none" stroke="#000" stroke-width="1.4"/>
<circle cx="73.62" cy="338.04" r="1.4" fill="none" stroke="#000" stroke-width="1.4"/>
<circle cx="75.39" cy="336.72" r="1.4" fill="none" stroke="#000" stroke-width="1.4"/>
<circle cx="73.90" cy="335.51" r="1.4" fill="none" stroke="#000" stroke-width="1.4"/>
<circle cx="75.31" cy="334.37" r="1.4" fill="none" stroke="#000" stroke-width="1.4"/>
<circle cx="74.47" cy="333.36" r="1.4" fill="none" stroke="#000" stroke-width="1.4"/>
<circle cx="74.40" cy="331.90" r="1.4" fill="none" stroke="#000" stroke-width="1.4"/>
<circle cx="73.73" cy="331.10" r="1.4" fill="none" stroke="#000" stroke-width="1.4"/>
<circle cx="73.53" cy="329.63" r="1.4" fill="none" stroke="#000" stroke-width="1.4"/>
<circle cx="73.36" cy="328.86" r="1.4" fill="none" stroke="#000" stroke-width="1.4"/>
<circle cx="75.21" cy="327.68" r="1.4" fill="none" stroke="#000" stroke-width="1.4"/>
<circle cx="73.25" cy="326.50" r="1.4" fill="none" stroke="#000" stroke-width="1.4"/>
<circle cx="74.70" cy="299.50" r="1.4" fill="none" stroke="#000" stroke-width="1.4"/>
<circle cx="75.30" cy="277.30" r="1.4" fill="none" stroke="#000" stroke-width="1.4"/>
<circle cx="73.90" cy="389.60" r="1.4" fill="none" stroke="#000" stroke-width="1.4"/>
<circle cx="75.30" cy="309.30" r="1.4" fill="none" stroke="#000" stroke-width="1.4"/>
<circle cx="73.50" cy="314.60" r="1.4" fill="none" stroke="#000" stroke-width="1.4"/>
<circle cx="75.00" cy="315.80" r="1.4" fill="none" stroke="#000" stroke-width="1.4"/>
<circle cx="74.00" cy="318.20" r="1.4" fill="none" stroke="#000" stroke-width="1.4"/>
<circle cx="76.00" cy="319.00" r="1.4" fill="none" stroke="#000" stroke-width="1.4"/>
<circle cx="74.00" cy="323.10" r="1.4" fill="none" stroke="#000" stroke-width="1.4"/>
<circle cx="75.50" cy="325.60" r="1.4" fill="none" stroke="#000" stroke-width="1.4"/>
<circle cx="77.00" cy="327.00" r="1.4" fill="none" stroke="#000" stroke-width="1.4"/>
<line x1="116" y1="303.2" x2="116" y2="342.5" stroke="#000" stroke-width="1.2" stroke-dasharray="3.8,3.6"/>
<line x1="116" y1="369.1" x2="116" y2="381.3" stroke="#000" stroke-width="1.2" stroke-dasharray="3.8,3.6"/>
<line x1="107.3" y1="303.2" x2="124.7" y2="303.2" stroke="#000" stroke-width="1.3" />
<line x1="107.3" y1="381.3" x2="124.7" y2="381.3" stroke="#000" stroke-width="1.3" />
<rect x="99.6" y="342.5" width="33.1" height="26.6" fill="#00FF00" stroke="#000" stroke-width="1.1"/>
<line x1="99.6" y1="354.5" x2="132.7" y2="354.5" stroke="#000" stroke-width="3" />
<circle cx="118.90" cy="303.20" r="1.4" fill="none" stroke="#000" stroke-width="1.4"/>
<circle cx="115.30" cy="314.60" r="1.4" fill="none" stroke="#000" stroke-width="1.4"/>
<circle cx="112.40" cy="330.70" r="1.4" fill="none" stroke="#000" stroke-width="1.4"/>
<circle cx="113.80" cy="339.30" r="1.4" fill="none" stroke="#000" stroke-width="1.4"/>
<circle cx="113.80" cy="342.90" r="1.4" fill="none" stroke="#000" stroke-width="1.4"/>
<circle cx="118.90" cy="342.90" r="1.4" fill="none" stroke="#000" stroke-width="1.4"/>
<circle cx="114.30" cy="343.60" r="1.4" fill="none" stroke="#000" stroke-width="1.4"/>
<circle cx="119.40" cy="343.60" r="1.4" fill="none" stroke="#000" stroke-width="1.4"/>
<circle cx="118.30" cy="348.20" r="1.4" fill="none" stroke="#000" stroke-width="1.4"/>
<circle cx="115.30" cy="352.20" r="1.4" fill="none" stroke="#000" stroke-width="1.4"/>
<circle cx="118.30" cy="355.30" r="1.4" fill="none" stroke="#000" stroke-width="1.4"/>
<circle cx="116.30" cy="359.40" r="1.4" fill="none" stroke="#000" stroke-width="1.4"/>
<circle cx="117.80" cy="360.40" r="1.4" fill="none" stroke="#000" stroke-width="1.4"/>
<circle cx="114.80" cy="361.90" r="1.4" fill="none" stroke="#000" stroke-width="1.4"/>
<circle cx="117.30" cy="364.00" r="1.4" fill="none" stroke="#000" stroke-width="1.4"/>
<circle cx="114.30" cy="369.60" r="1.4" fill="none" stroke="#000" stroke-width="1.4"/>
<circle cx="116.30" cy="371.60" r="1.4" fill="none" stroke="#000" stroke-width="1.4"/>
<circle cx="118.30" cy="372.60" r="1.4" fill="none" stroke="#000" stroke-width="1.4"/>
<circle cx="113.80" cy="374.70" r="1.4" fill="none" stroke="#000" stroke-width="1.4"/>
<circle cx="114.30" cy="376.20" r="1.4" fill="none" stroke="#000" stroke-width="1.4"/>
<circle cx="118.90" cy="381.30" r="1.4" fill="none" stroke="#000" stroke-width="1.4"/>
<circle cx="116.00" cy="357.00" r="1.4" fill="none" stroke="#000" stroke-width="1.4"/>
<line x1="157" y1="321.3" x2="157" y2="354.3" stroke="#000" stroke-width="1.2" stroke-dasharray="3.8,3.6"/>
<line x1="157" y1="380.7" x2="157" y2="409.1" stroke="#000" stroke-width="1.2" stroke-dasharray="3.8,3.6"/>
<line x1="148.4" y1="321.3" x2="165.6" y2="321.3" stroke="#000" stroke-width="1.3" />
<line x1="148.4" y1="409.1" x2="165.6" y2="409.1" stroke="#000" stroke-width="1.3" />
<rect x="140.6" y="354.3" width="33.4" height="26.4" fill="#006400" stroke="#000" stroke-width="1.1"/>
<line x1="140.6" y1="369.2" x2="174" y2="369.2" stroke="#000" stroke-width="3" />
<circle cx="153.11" cy="400.33" r="1.4" fill="none" stroke="#000" stroke-width="1.4"/>
<circle cx="158.78" cy="398.85" r="1.4" fill="none" stroke="#000" stroke-width="1.4"/>
<circle cx="154.82" cy="396.64" r="1.4" fill="none" stroke="#000" stroke-width="1.4"/>
<circle cx="159.63" cy="395.29" r="1.4" fill="none" stroke="#000" stroke-width="1.4"/>
<circle cx="155.15" cy="393.65" r="1.4" fill="none" stroke="#000" stroke-width="1.4"/>
<circle cx="156.13" cy="392.17" r="1.4" fill="none" stroke="#000" stroke-width="1.4"/>
<circle cx="153.23" cy="391.20" r="1.4" fill="none" stroke="#000" stroke-width="1.4"/>
<circle cx="161.38" cy="390.79" r="1.4" fill="none" stroke="#000" stroke-width="1.4"/>
<circle cx="154.71" cy="390.62" r="1.4" fill="none" stroke="#000" stroke-width="1.4"/>
<circle cx="158.57" cy="389.57" r="1.4" fill="none" stroke="#000" stroke-width="1.4"/>
<circle cx="157.73" cy="389.46" r="1.4" fill="none" stroke="#000" stroke-width="1.4"/>
<circle cx="153.72" cy="388.93" r="1.4" fill="none" stroke="#000" stroke-width="1.4"/>
<circle cx="153.28" cy="388.16" r="1.4" fill="none" stroke="#000" stroke-width="1.4"/>
<circle cx="152.87" cy="387.53" r="1.4" fill="none" stroke="#000" stroke-width="1.4"/>
<circle cx="162.17" cy="387.16" r="1.4" fill="none" stroke="#000" stroke-width="1.4"/>
<circle cx="162.30" cy="386.67" r="1.4" fill="none" stroke="#000" stroke-width="1.4"/>
<circle cx="158.32" cy="386.49" r="1.4" fill="none" stroke="#000" stroke-width="1.4"/>
<circle cx="159.14" cy="385.36" r="1.4" fill="none" stroke="#000" stroke-width="1.4"/>
<circle cx="158.13" cy="385.25" r="1.4" fill="none" stroke="#000" stroke-width="1.4"/>
<circle cx="153.88" cy="384.30" r="1.4" fill="none" stroke="#000" stroke-width="1.4"/>
<circle cx="161.10" cy="384.11" r="1.4" fill="none" stroke="#000" stroke-width="1.4"/>
<circle cx="154.02" cy="383.54" r="1.4" fill="none" stroke="#000" stroke-width="1.4"/>
<circle cx="154.27" cy="383.29" r="1.4" fill="none" stroke="#000" stroke-width="1.4"/>
<circle cx="157.20" cy="382.21" r="1.4" fill="none" stroke="#000" stroke-width="1.4"/>
<circle cx="160.51" cy="381.68" r="1.4" fill="none" stroke="#000" stroke-width="1.4"/>
<circle cx="154.92" cy="381.11" r="1.4" fill="none" stroke="#000" stroke-width="1.4"/>
<circle cx="159.70" cy="380.65" r="1.4" fill="none" stroke="#000" stroke-width="1.4"/>
<circle cx="157.47" cy="380.16" r="1.4" fill="none" stroke="#000" stroke-width="1.4"/>
<circle cx="157.00" cy="380.21" r="1.4" fill="none" stroke="#000" stroke-width="1.4"/>
<circle cx="157.56" cy="379.60" r="1.4" fill="none" stroke="#000" stroke-width="1.4"/>
<circle cx="157.04" cy="379.16" r="1.4" fill="none" stroke="#000" stroke-width="1.4"/>
<circle cx="158.19" cy="378.46" r="1.4" fill="none" stroke="#000" stroke-width="1.4"/>
<circle cx="156.93" cy="378.15" r="1.4" fill="none" stroke="#000" stroke-width="1.4"/>
<circle cx="161.00" cy="378.28" r="1.4" fill="none" stroke="#000" stroke-width="1.4"/>
<circle cx="152.69" cy="377.22" r="1.4" fill="none" stroke="#000" stroke-width="1.4"/>
<circle cx="159.32" cy="377.14" r="1.4" fill="none" stroke="#000" stroke-width="1.4"/>
<circle cx="152.20" cy="376.82" r="1.4" fill="none" stroke="#000" stroke-width="1.4"/>
<circle cx="161.82" cy="376.17" r="1.4" fill="none" stroke="#000" stroke-width="1.4"/>
<circle cx="155.61" cy="375.86" r="1.4" fill="none" stroke="#000" stroke-width="1.4"/>
<circle cx="161.77" cy="375.19" r="1.4" fill="none" stroke="#000" stroke-width="1.4"/>
<circle cx="155.14" cy="374.70" r="1.4" fill="none" stroke="#000" stroke-width="1.4"/>
<circle cx="158.54" cy="374.50" r="1.4" fill="none" stroke="#000" stroke-width="1.4"/>
<circle cx="154.66" cy="374.01" r="1.4" fill="none" stroke="#000" stroke-width="1.4"/>
<circle cx="152.36" cy="373.52" r="1.4" fill="none" stroke="#000" stroke-width="1.4"/>
<circle cx="162.22" cy="373.32" r="1.4" fill="none" stroke="#000" stroke-width="1.4"/>
<circle cx="154.94" cy="373.17" r="1.4" fill="none" stroke="#000" stroke-width="1.4"/>
<circle cx="155.73" cy="372.20" r="1.4" fill="none" stroke="#000" stroke-width="1.4"/>
<circle cx="152.37" cy="371.69" r="1.4" fill="none" stroke="#000" stroke-width="1.4"/>
<circle cx="154.07" cy="371.33" r="1.4" fill="none" stroke="#000" stroke-width="1.4"/>
<circle cx="161.08" cy="370.93" r="1.4" fill="none" stroke="#000" stroke-width="1.4"/>
<circle cx="154.59" cy="370.77" r="1.4" fill="none" stroke="#000" stroke-width="1.4"/>
<circle cx="161.54" cy="370.10" r="1.4" fill="none" stroke="#000" stroke-width="1.4"/>
<circle cx="159.92" cy="369.73" r="1.4" fill="none" stroke="#000" stroke-width="1.4"/>
<circle cx="157.84" cy="369.49" r="1.4" fill="none" stroke="#000" stroke-width="1.4"/>
<circle cx="161.80" cy="369.13" r="1.4" fill="none" stroke="#000" stroke-width="1.4"/>
<circle cx="157.28" cy="368.65" r="1.4" fill="none" stroke="#000" stroke-width="1.4"/>
<circle cx="155.81" cy="367.73" r="1.4" fill="none" stroke="#000" stroke-width="1.4"/>
<circle cx="161.98" cy="367.31" r="1.4" fill="none" stroke="#000" stroke-width="1.4"/>
<circle cx="160.04" cy="366.57" r="1.4" fill="none" stroke="#000" stroke-width="1.4"/>
<circle cx="161.52" cy="366.26" r="1.4" fill="none" stroke="#000" stroke-width="1.4"/>
<circle cx="154.57" cy="365.96" r="1.4" fill="none" stroke="#000" stroke-width="1.4"/>
<circle cx="156.88" cy="364.93" r="1.4" fill="none" stroke="#000" stroke-width="1.4"/>
<circle cx="154.73" cy="364.19" r="1.4" fill="none" stroke="#000" stroke-width="1.4"/>
<circle cx="154.09" cy="364.11" r="1.4" fill="none" stroke="#000" stroke-width="1.4"/>
<circle cx="153.46" cy="363.21" r="1.4" fill="none" stroke="#000" stroke-width="1.4"/>
<circle cx="156.65" cy="362.89" r="1.4" fill="none" stroke="#000" stroke-width="1.4"/>
<circle cx="155.96" cy="362.53" r="1.4" fill="none" stroke="#000" stroke-width="1.4"/>
<circle cx="154.67" cy="361.64" r="1.4" fill="none" stroke="#000" stroke-width="1.4"/>
<circle cx="156.42" cy="360.90" r="1.4" fill="none" stroke="#000" stroke-width="1.4"/>
<circle cx="154.31" cy="360.36" r="1.4" fill="none" stroke="#000" stroke-width="1.4"/>
<circle cx="159.54" cy="359.81" r="1.4" fill="none" stroke="#000" stroke-width="1.4"/>
<circle cx="158.95" cy="359.32" r="1.4" fill="none" stroke="#000" stroke-width="1.4"/>
<circle cx="158.73" cy="359.12" r="1.4" fill="none" stroke="#000" stroke-width="1.4"/>
<circle cx="155.68" cy="358.79" r="1.4" fill="none" stroke="#000" stroke-width="1.4"/>
<circle cx="158.83" cy="357.93" r="1.4" fill="none" stroke="#000" stroke-width="1.4"/>
<circle cx="152.48" cy="357.26" r="1.4" fill="none" stroke="#000" stroke-width="1.4"/>
<circle cx="154.77" cy="356.76" r="1.4" fill="none" stroke="#000" stroke-width="1.4"/>
<circle cx="161.71" cy="356.52" r="1.4" fill="none" stroke="#000" stroke-width="1.4"/>
<circle cx="152.64" cy="355.82" r="1.4" fill="none" stroke="#000" stroke-width="1.4"/>
<circle cx="161.72" cy="355.16" r="1.4" fill="none" stroke="#000" stroke-width="1.4"/>
<circle cx="153.01" cy="354.87" r="1.4" fill="none" stroke="#000" stroke-width="1.4"/>
<circle cx="156.43" cy="354.39" r="1.4" fill="none" stroke="#000" stroke-width="1.4"/>
<circle cx="161.09" cy="353.68" r="1.4" fill="none" stroke="#000" stroke-width="1.4"/>
<circle cx="161.68" cy="352.48" r="1.4" fill="none" stroke="#000" stroke-width="1.4"/>
<circle cx="160.26" cy="352.08" r="1.4" fill="none" stroke="#000" stroke-width="1.4"/>
<circle cx="153.41" cy="351.55" r="1.4" fill="none" stroke="#000" stroke-width="1.4"/>
<circle cx="158.12" cy="350.67" r="1.4" fill="none" stroke="#000" stroke-width="1.4"/>
<circle cx="156.68" cy="350.70" r="1.4" fill="none" stroke="#000" stroke-width="1.4"/>
<circle cx="157.15" cy="349.91" r="1.4" fill="none" stroke="#000" stroke-width="1.4"/>
<circle cx="155.08" cy="349.67" r="1.4" fill="none" stroke="#000" stroke-width="1.4"/>
<circle cx="156.80" cy="321.30" r="1.4" fill="none" stroke="#000" stroke-width="1.4"/>
<circle cx="158.90" cy="300.00" r="1.4" fill="none" stroke="#000" stroke-width="1.4"/>
<circle cx="152.50" cy="309.50" r="1.4" fill="none" stroke="#000" stroke-width="1.4"/>
<circle cx="161.30" cy="311.40" r="1.4" fill="none" stroke="#000" stroke-width="1.4"/>
<circle cx="156.90" cy="409.10" r="1.4" fill="none" stroke="#000" stroke-width="1.4"/>
<circle cx="152.50" cy="325.30" r="1.4" fill="none" stroke="#000" stroke-width="1.4"/>
<circle cx="159.20" cy="329.90" r="1.4" fill="none" stroke="#000" stroke-width="1.4"/>
<circle cx="157.50" cy="332.30" r="1.4" fill="none" stroke="#000" stroke-width="1.4"/>
<circle cx="158.50" cy="334.80" r="1.4" fill="none" stroke="#000" stroke-width="1.4"/>
<circle cx="154.50" cy="336.00" r="1.4" fill="none" stroke="#000" stroke-width="1.4"/>
<circle cx="156.00" cy="338.00" r="1.4" fill="none" stroke="#000" stroke-width="1.4"/>
<circle cx="161.00" cy="339.10" r="1.4" fill="none" stroke="#000" stroke-width="1.4"/>
<circle cx="152.00" cy="344.10" r="1.4" fill="none" stroke="#000" stroke-width="1.4"/>
<circle cx="157.00" cy="343.50" r="1.4" fill="none" stroke="#000" stroke-width="1.4"/>
<circle cx="160.00" cy="346.00" r="1.4" fill="none" stroke="#000" stroke-width="1.4"/>
<circle cx="159.00" cy="348.00" r="1.4" fill="none" stroke="#000" stroke-width="1.4"/>
<circle cx="155.00" cy="350.00" r="1.4" fill="none" stroke="#000" stroke-width="1.4"/>
<circle cx="153.00" cy="352.00" r="1.4" fill="none" stroke="#000" stroke-width="1.4"/>
<rect x="49.77" y="270.35" width="132.43" height="168.6" fill="none" stroke="#151515" stroke-width="1.3"/>
<line x1="74.5" y1="396" x2="115.5" y2="396" stroke="#8c8c8c" stroke-width="1" />
<line x1="95" y1="396" x2="95" y2="404.75" stroke="#8c8c8c" stroke-width="1" />
<line x1="118.75" y1="416" x2="159.5" y2="416" stroke="#8c8c8c" stroke-width="1" />
<line x1="138.25" y1="416" x2="138.25" y2="424.75" stroke="#8c8c8c" stroke-width="1" />
<text x="120" y="286.7" font-size="11.0" font-weight="bold" text-anchor="middle" fill="#000" stroke="#000" stroke-width="0.28" >P(LR)=4e-09</text>
<text x="93" y="413" font-size="11.0" font-weight="bold" text-anchor="middle" fill="#000" stroke="#000" stroke-width="0.28" >P=0.138</text>
<text x="138" y="435" font-size="11.0" font-weight="bold" text-anchor="middle" fill="#000" stroke="#000" stroke-width="0.28" >P=0.001</text>
<rect x="247.5" y="270.35" width="132.65" height="168.6" fill="none" stroke="#151515" stroke-width="1.3"/>
<line x1="240.6" y1="432.71" x2="247.5" y2="432.71" stroke="#151515" stroke-width="1.3" />
<text x="229.2" y="432.71" font-size="10.2" font-weight="normal" text-anchor="middle" fill="#000" stroke="#000" stroke-width="0.28" transform="rotate(-90 229.2 432.71)" dominant-baseline="central">0.0</text>
<line x1="240.6" y1="401.49" x2="247.5" y2="401.49" stroke="#151515" stroke-width="1.3" />
<text x="229.2" y="401.49" font-size="10.2" font-weight="normal" text-anchor="middle" fill="#000" stroke="#000" stroke-width="0.28" transform="rotate(-90 229.2 401.49)" dominant-baseline="central">0.2</text>
<line x1="240.6" y1="370.26" x2="247.5" y2="370.26" stroke="#151515" stroke-width="1.3" />
<text x="229.2" y="370.26" font-size="10.2" font-weight="normal" text-anchor="middle" fill="#000" stroke="#000" stroke-width="0.28" transform="rotate(-90 229.2 370.26)" dominant-baseline="central">0.4</text>
<line x1="240.6" y1="339.04" x2="247.5" y2="339.04" stroke="#151515" stroke-width="1.3" />
<text x="229.2" y="339.04" font-size="10.2" font-weight="normal" text-anchor="middle" fill="#000" stroke="#000" stroke-width="0.28" transform="rotate(-90 229.2 339.04)" dominant-baseline="central">0.6</text>
<line x1="240.6" y1="307.81" x2="247.5" y2="307.81" stroke="#151515" stroke-width="1.3" />
<text x="229.2" y="307.81" font-size="10.2" font-weight="normal" text-anchor="middle" fill="#000" stroke="#000" stroke-width="0.28" transform="rotate(-90 229.2 307.81)" dominant-baseline="central">0.8</text>
<line x1="240.6" y1="276.59" x2="247.5" y2="276.59" stroke="#151515" stroke-width="1.3" />
<text x="229.2" y="276.59" font-size="10.2" font-weight="normal" text-anchor="middle" fill="#000" stroke="#000" stroke-width="0.28" transform="rotate(-90 229.2 276.59)" dominant-baseline="central">1.0</text>
<line x1="252.41" y1="438.95" x2="252.41" y2="445.85" stroke="#151515" stroke-width="1.3" />
<line x1="276.98" y1="438.95" x2="276.98" y2="445.85" stroke="#151515" stroke-width="1.3" />
<line x1="301.54" y1="438.95" x2="301.54" y2="445.85" stroke="#151515" stroke-width="1.3" />
<line x1="326.11" y1="438.95" x2="326.11" y2="445.85" stroke="#151515" stroke-width="1.3" />
<line x1="350.67" y1="438.95" x2="350.67" y2="445.85" stroke="#151515" stroke-width="1.3" />
<line x1="375.24" y1="438.95" x2="375.24" y2="445.85" stroke="#151515" stroke-width="1.3" />
<text x="252.41" y="463.45" font-size="11.0" font-weight="normal" text-anchor="middle" fill="#000" stroke="#000" stroke-width="0.28" >0.0</text>
<text x="276.98" y="463.45" font-size="11.0" font-weight="normal" text-anchor="middle" fill="#000" stroke="#000" stroke-width="0.28" >0.2</text>
<text x="301.54" y="463.45" font-size="11.0" font-weight="normal" text-anchor="middle" fill="#000" stroke="#000" stroke-width="0.28" >0.4</text>
<text x="326.11" y="463.45" font-size="11.0" font-weight="normal" text-anchor="middle" fill="#000" stroke="#000" stroke-width="0.28" >0.6</text>
<text x="350.67" y="463.45" font-size="11.0" font-weight="normal" text-anchor="middle" fill="#000" stroke="#000" stroke-width="0.28" >0.8</text>
<text x="375.24" y="463.45" font-size="11.0" font-weight="normal" text-anchor="middle" fill="#000" stroke="#000" stroke-width="0.28" >1.0</text>
<text x="312.93" y="488.95" font-size="11.0" font-weight="normal" text-anchor="middle" fill="#000" stroke="#000" stroke-width="0.28" >1-Sp</text>
<text x="205.7" y="355" font-size="10.4" font-weight="normal" text-anchor="middle" fill="#000" stroke="#000" stroke-width="0.28" transform="rotate(-90 205.7 355)" >Se</text>
<text x="313.7" y="262.2" font-size="13.7" font-weight="bold" text-anchor="middle" fill="#000" stroke="#000" stroke-width="0.28" >ROC [N vs (MildIM+IM)]</text>
<polyline points="252.41,432.71 252.41,417.10 254.42,417.10 254.42,408.69 256.44,408.69 256.44,401.49 258.45,401.49 258.45,390.68 260.46,390.68 260.46,378.67 266.51,378.67 266.51,366.66 268.52,366.66 268.52,360.65 274.56,360.65 274.56,352.25 276.57,352.25 276.57,349.85 278.59,349.85 278.59,346.24 280.60,346.24 280.60,340.24 286.64,340.24 286.64,334.23 290.67,334.23 290.67,333.03 296.71,333.03 296.71,330.63 300.74,330.63 300.74,322.23 304.76,322.23 304.76,319.82 306.78,319.82 306.78,317.42 310.80,317.42 310.80,315.02 310.80,315.02 310.80,306.61 312.82,306.61 312.82,305.41 318.86,305.41 318.86,303.01 320.87,303.01 320.87,295.80 326.91,295.80 326.91,294.60 328.93,294.60 328.93,292.20 336.98,292.20 336.98,291.00 339.00,291.00 339.00,288.60 347.05,288.60 347.05,286.20 353.09,286.20 353.09,285.00 357.12,285.00 357.12,283.80 365.17,283.80 365.17,282.59 367.19,282.59 367.19,278.99 369.20,278.99 369.20,277.79 373.23,277.79 373.23,276.59 375.24,276.59" fill="none" stroke="#ff0000" stroke-width="2.2" stroke-linejoin="miter"/>
<line x1="247.5" y1="438.95" x2="380.15" y2="270.35" stroke="#00ff00" stroke-width="2.5" stroke-linecap="round"/>
<text x="318.95" y="404.6" font-size="11.0" font-weight="bold" text-anchor="middle" fill="#000" stroke="#000" stroke-width="0.28" >AUC=0.73 (0.65-0.8)</text>
<line x1="438.8" y1="433" x2="445.7" y2="433" stroke="#151515" stroke-width="1.3" />
<text x="427" y="433" font-size="10.2" font-weight="normal" text-anchor="middle" fill="#000" stroke="#000" stroke-width="0.28" transform="rotate(-90 427 433)" dominant-baseline="central">0.4</text>
<line x1="438.8" y1="401.7" x2="445.7" y2="401.7" stroke="#151515" stroke-width="1.3" />
<text x="427" y="401.7" font-size="10.2" font-weight="normal" text-anchor="middle" fill="#000" stroke="#000" stroke-width="0.28" transform="rotate(-90 427 401.7)" dominant-baseline="central">0.5</text>
<line x1="438.8" y1="370.4" x2="445.7" y2="370.4" stroke="#151515" stroke-width="1.3" />
<text x="427" y="370.4" font-size="10.2" font-weight="normal" text-anchor="middle" fill="#000" stroke="#000" stroke-width="0.28" transform="rotate(-90 427 370.4)" dominant-baseline="central">0.6</text>
<line x1="438.8" y1="339.1" x2="445.7" y2="339.1" stroke="#151515" stroke-width="1.3" />
<text x="427" y="339.1" font-size="10.2" font-weight="normal" text-anchor="middle" fill="#000" stroke="#000" stroke-width="0.28" transform="rotate(-90 427 339.1)" dominant-baseline="central">0.7</text>
<line x1="438.8" y1="307.8" x2="445.7" y2="307.8" stroke="#151515" stroke-width="1.3" />
<text x="427" y="307.8" font-size="10.2" font-weight="normal" text-anchor="middle" fill="#000" stroke="#000" stroke-width="0.28" transform="rotate(-90 427 307.8)" dominant-baseline="central">0.8</text>
<line x1="438.8" y1="276.5" x2="445.7" y2="276.5" stroke="#151515" stroke-width="1.3" />
<text x="427" y="276.5" font-size="10.2" font-weight="normal" text-anchor="middle" fill="#000" stroke="#000" stroke-width="0.28" transform="rotate(-90 427 276.5)" dominant-baseline="central">0.9</text>
<line x1="481.25" y1="438.95" x2="481.25" y2="445.85" stroke="#151515" stroke-width="1.3" />
<line x1="542.5" y1="438.95" x2="542.5" y2="445.85" stroke="#151515" stroke-width="1.3" />
<text x="481.25" y="462.5" font-size="11" font-weight="normal" text-anchor="middle" fill="#000" stroke="#000" stroke-width="0.28" >N</text>
<text x="542.5" y="462.5" font-size="11" font-weight="normal" text-anchor="middle" fill="#000" stroke="#000" stroke-width="0.28" >A</text>
<text x="481.25" y="472.2" font-size="9.4" font-weight="normal" text-anchor="middle" fill="#000" stroke="#000" stroke-width="0.28" >n=8</text>
<text x="542.5" y="472.2" font-size="9.4" font-weight="normal" text-anchor="middle" fill="#000" stroke="#000" stroke-width="0.28" >n=39</text>
<text x="404.2" y="354" font-size="11" font-weight="normal" text-anchor="middle" fill="#000" stroke="#000" stroke-width="0.28" transform="rotate(-90 404.2 354)" >HypoScore[AgeAdj]</text>
<text x="401.5" y="264.9" font-size="24.6" font-weight="bold" text-anchor="start" fill="#000" stroke="#000" stroke-width="0.28" letter-spacing="0.6">d)</text>
<line x1="481.25" y1="279" x2="481.25" y2="323.4" stroke="#000" stroke-width="1.2" stroke-dasharray="3.8,3.6"/>
<line x1="481.25" y1="369.3" x2="481.25" y2="373.8" stroke="#000" stroke-width="1.2" stroke-dasharray="3.8,3.6"/>
<line x1="468.65" y1="279" x2="493.85" y2="279" stroke="#000" stroke-width="1.3" />
<line x1="468.65" y1="373.8" x2="493.85" y2="373.8" stroke="#000" stroke-width="1.3" />
<rect x="456" y="323.4" width="50" height="45.9" fill="#90EE90" stroke="#000" stroke-width="1.1"/>
<line x1="456" y1="348.5" x2="506" y2="348.5" stroke="#000" stroke-width="3" />
<circle cx="483.20" cy="279.00" r="1.4" fill="none" stroke="#000" stroke-width="1.4"/>
<circle cx="482.00" cy="323.20" r="1.4" fill="none" stroke="#000" stroke-width="1.4"/>
<circle cx="481.50" cy="324.00" r="1.4" fill="none" stroke="#000" stroke-width="1.4"/>
<circle cx="483.20" cy="346.20" r="1.4" fill="none" stroke="#000" stroke-width="1.4"/>
<circle cx="482.00" cy="349.60" r="1.4" fill="none" stroke="#000" stroke-width="1.4"/>
<circle cx="481.50" cy="348.00" r="1.4" fill="none" stroke="#000" stroke-width="1.4"/>
<circle cx="481.80" cy="366.00" r="1.4" fill="none" stroke="#000" stroke-width="1.4"/>
<circle cx="479.80" cy="373.60" r="1.4" fill="none" stroke="#000" stroke-width="1.4"/>
<line x1="542.3" y1="330" x2="542.3" y2="366.9" stroke="#000" stroke-width="1.2" stroke-dasharray="3.8,3.6"/>
<line x1="542.3" y1="396.4" x2="542.3" y2="425.4" stroke="#000" stroke-width="1.2" stroke-dasharray="3.8,3.6"/>
<line x1="529.8" y1="330" x2="554.8" y2="330" stroke="#000" stroke-width="1.3" />
<line x1="529.8" y1="425.4" x2="554.8" y2="425.4" stroke="#000" stroke-width="1.3" />
<rect x="518" y="366.9" width="49.5" height="29.5" fill="#006400" stroke="#000" stroke-width="1.1"/>
<line x1="518" y1="380.4" x2="567.5" y2="380.4" stroke="#000" stroke-width="3" />
<circle cx="543.00" cy="312.60" r="1.4" fill="none" stroke="#000" stroke-width="1.4"/>
<circle cx="541.00" cy="329.90" r="1.4" fill="none" stroke="#000" stroke-width="1.4"/>
<circle cx="539.00" cy="337.20" r="1.4" fill="none" stroke="#000" stroke-width="1.4"/>
<circle cx="539.30" cy="349.40" r="1.4" fill="none" stroke="#000" stroke-width="1.4"/>
<circle cx="541.40" cy="347.60" r="1.4" fill="none" stroke="#000" stroke-width="1.4"/>
<circle cx="540.80" cy="354.30" r="1.4" fill="none" stroke="#000" stroke-width="1.4"/>
<circle cx="542.60" cy="355.60" r="1.4" fill="none" stroke="#000" stroke-width="1.4"/>
<circle cx="545.90" cy="354.30" r="1.4" fill="none" stroke="#000" stroke-width="1.4"/>
<circle cx="545.10" cy="357.40" r="1.4" fill="none" stroke="#000" stroke-width="1.4"/>
<circle cx="540.20" cy="360.50" r="1.4" fill="none" stroke="#000" stroke-width="1.4"/>
<circle cx="542.00" cy="366.00" r="1.4" fill="none" stroke="#000" stroke-width="1.4"/>
<circle cx="545.10" cy="365.30" r="1.4" fill="none" stroke="#000" stroke-width="1.4"/>
<circle cx="539.00" cy="373.30" r="1.4" fill="none" stroke="#000" stroke-width="1.4"/>
<circle cx="547.50" cy="374.50" r="1.4" fill="none" stroke="#000" stroke-width="1.4"/>
<circle cx="538.30" cy="377.60" r="1.4" fill="none" stroke="#000" stroke-width="1.4"/>
<circle cx="546.30" cy="377.60" r="1.4" fill="none" stroke="#000" stroke-width="1.4"/>
<circle cx="541.00" cy="381.00" r="1.4" fill="none" stroke="#000" stroke-width="1.4"/>
<circle cx="544.00" cy="382.00" r="1.4" fill="none" stroke="#000" stroke-width="1.4"/>
<circle cx="539.50" cy="383.00" r="1.4" fill="none" stroke="#000" stroke-width="1.4"/>
<circle cx="540.80" cy="386.00" r="1.4" fill="none" stroke="#000" stroke-width="1.4"/>
<circle cx="543.80" cy="388.40" r="1.4" fill="none" stroke="#000" stroke-width="1.4"/>
<circle cx="542.60" cy="389.70" r="1.4" fill="none" stroke="#000" stroke-width="1.4"/>
<circle cx="539.00" cy="390.90" r="1.4" fill="none" stroke="#000" stroke-width="1.4"/>
<circle cx="544.40" cy="392.10" r="1.4" fill="none" stroke="#000" stroke-width="1.4"/>
<circle cx="542.00" cy="395.20" r="1.4" fill="none" stroke="#000" stroke-width="1.4"/>
<circle cx="543.80" cy="395.80" r="1.4" fill="none" stroke="#000" stroke-width="1.4"/>
<circle cx="537.70" cy="400.10" r="1.4" fill="none" stroke="#000" stroke-width="1.4"/>
<circle cx="546.90" cy="401.00" r="1.4" fill="none" stroke="#000" stroke-width="1.4"/>
<circle cx="538.10" cy="405.00" r="1.4" fill="none" stroke="#000" stroke-width="1.4"/>
<circle cx="538.30" cy="406.50" r="1.4" fill="none" stroke="#000" stroke-width="1.4"/>
<circle cx="545.70" cy="410.50" r="1.4" fill="none" stroke="#000" stroke-width="1.4"/>
<circle cx="541.00" cy="425.40" r="1.4" fill="none" stroke="#000" stroke-width="1.4"/>
<circle cx="544.00" cy="370.00" r="1.4" fill="none" stroke="#000" stroke-width="1.4"/>
<circle cx="540.00" cy="368.00" r="1.4" fill="none" stroke="#000" stroke-width="1.4"/>
<circle cx="546.00" cy="386.00" r="1.4" fill="none" stroke="#000" stroke-width="1.4"/>
<circle cx="538.50" cy="393.00" r="1.4" fill="none" stroke="#000" stroke-width="1.4"/>
<circle cx="542.00" cy="372.00" r="1.4" fill="none" stroke="#000" stroke-width="1.4"/>
<circle cx="544.00" cy="384.00" r="1.4" fill="none" stroke="#000" stroke-width="1.4"/>
<circle cx="540.00" cy="379.00" r="1.4" fill="none" stroke="#000" stroke-width="1.4"/>
<rect x="445.7" y="270.35" width="132.1" height="168.6" fill="none" stroke="#151515" stroke-width="1.3"/>
<text x="510.5" y="296" font-size="11.0" font-weight="bold" text-anchor="middle" fill="#000" stroke="#000" stroke-width="0.28" >P=2e-04</text>
<rect x="643.26" y="270.35" width="132.64" height="168.6" fill="none" stroke="#151515" stroke-width="1.3"/>
<line x1="636.36" y1="432.71" x2="643.26" y2="432.71" stroke="#151515" stroke-width="1.3" />
<text x="624.96" y="432.71" font-size="10.2" font-weight="normal" text-anchor="middle" fill="#000" stroke="#000" stroke-width="0.28" transform="rotate(-90 624.96 432.71)" dominant-baseline="central">0.0</text>
<line x1="636.36" y1="401.49" x2="643.26" y2="401.49" stroke="#151515" stroke-width="1.3" />
<text x="624.96" y="401.49" font-size="10.2" font-weight="normal" text-anchor="middle" fill="#000" stroke="#000" stroke-width="0.28" transform="rotate(-90 624.96 401.49)" dominant-baseline="central">0.2</text>
<line x1="636.36" y1="370.26" x2="643.26" y2="370.26" stroke="#151515" stroke-width="1.3" />
<text x="624.96" y="370.26" font-size="10.2" font-weight="normal" text-anchor="middle" fill="#000" stroke="#000" stroke-width="0.28" transform="rotate(-90 624.96 370.26)" dominant-baseline="central">0.4</text>
<line x1="636.36" y1="339.04" x2="643.26" y2="339.04" stroke="#151515" stroke-width="1.3" />
<text x="624.96" y="339.04" font-size="10.2" font-weight="normal" text-anchor="middle" fill="#000" stroke="#000" stroke-width="0.28" transform="rotate(-90 624.96 339.04)" dominant-baseline="central">0.6</text>
<line x1="636.36" y1="307.81" x2="643.26" y2="307.81" stroke="#151515" stroke-width="1.3" />
<text x="624.96" y="307.81" font-size="10.2" font-weight="normal" text-anchor="middle" fill="#000" stroke="#000" stroke-width="0.28" transform="rotate(-90 624.96 307.81)" dominant-baseline="central">0.8</text>
<line x1="636.36" y1="276.59" x2="643.26" y2="276.59" stroke="#151515" stroke-width="1.3" />
<text x="624.96" y="276.59" font-size="10.2" font-weight="normal" text-anchor="middle" fill="#000" stroke="#000" stroke-width="0.28" transform="rotate(-90 624.96 276.59)" dominant-baseline="central">1.0</text>
<line x1="648.17" y1="438.95" x2="648.17" y2="445.85" stroke="#151515" stroke-width="1.3" />
<line x1="672.74" y1="438.95" x2="672.74" y2="445.85" stroke="#151515" stroke-width="1.3" />
<line x1="697.3" y1="438.95" x2="697.3" y2="445.85" stroke="#151515" stroke-width="1.3" />
<line x1="721.87" y1="438.95" x2="721.87" y2="445.85" stroke="#151515" stroke-width="1.3" />
<line x1="746.43" y1="438.95" x2="746.43" y2="445.85" stroke="#151515" stroke-width="1.3" />
<line x1="771" y1="438.95" x2="771" y2="445.85" stroke="#151515" stroke-width="1.3" />
<text x="648.17" y="463.45" font-size="11.0" font-weight="normal" text-anchor="middle" fill="#000" stroke="#000" stroke-width="0.28" >0.0</text>
<text x="672.74" y="463.45" font-size="11.0" font-weight="normal" text-anchor="middle" fill="#000" stroke="#000" stroke-width="0.28" >0.2</text>
<text x="697.3" y="463.45" font-size="11.0" font-weight="normal" text-anchor="middle" fill="#000" stroke="#000" stroke-width="0.28" >0.4</text>
<text x="721.87" y="463.45" font-size="11.0" font-weight="normal" text-anchor="middle" fill="#000" stroke="#000" stroke-width="0.28" >0.6</text>
<text x="746.43" y="463.45" font-size="11.0" font-weight="normal" text-anchor="middle" fill="#000" stroke="#000" stroke-width="0.28" >0.8</text>
<text x="771" y="463.45" font-size="11.0" font-weight="normal" text-anchor="middle" fill="#000" stroke="#000" stroke-width="0.28" >1.0</text>
<text x="708.69" y="488.95" font-size="11.0" font-weight="normal" text-anchor="middle" fill="#000" stroke="#000" stroke-width="0.28" >1-Sp</text>
<text x="601.5" y="355" font-size="10.4" font-weight="normal" text-anchor="middle" fill="#000" stroke="#000" stroke-width="0.28" transform="rotate(-90 601.5 355)" >Se</text>
<text x="709" y="262.2" font-size="13.7" font-weight="bold" text-anchor="middle" fill="#000" stroke="#000" stroke-width="0.28" >ROC [N vs A]</text>
<polyline points="648.17,432.71 648.17,324.63 663.52,324.63 663.52,320.62 678.88,320.62 678.88,308.61 694.23,308.61 694.23,292.60 709.59,292.60 709.59,288.60 724.94,288.60 724.94,280.59 755.65,280.59 755.65,276.59 771.00,276.59" fill="none" stroke="#ff0000" stroke-width="2.2" stroke-linejoin="miter"/>
<line x1="643.26" y1="438.95" x2="775.9" y2="270.35" stroke="#00ff00" stroke-width="2.5" stroke-linecap="round"/>
<text x="714.6" y="404.6" font-size="11.0" font-weight="bold" text-anchor="middle" fill="#000" stroke="#000" stroke-width="0.28" >AUC=0.87 (0.77-0.98)</text>
</svg>
</body></html>
